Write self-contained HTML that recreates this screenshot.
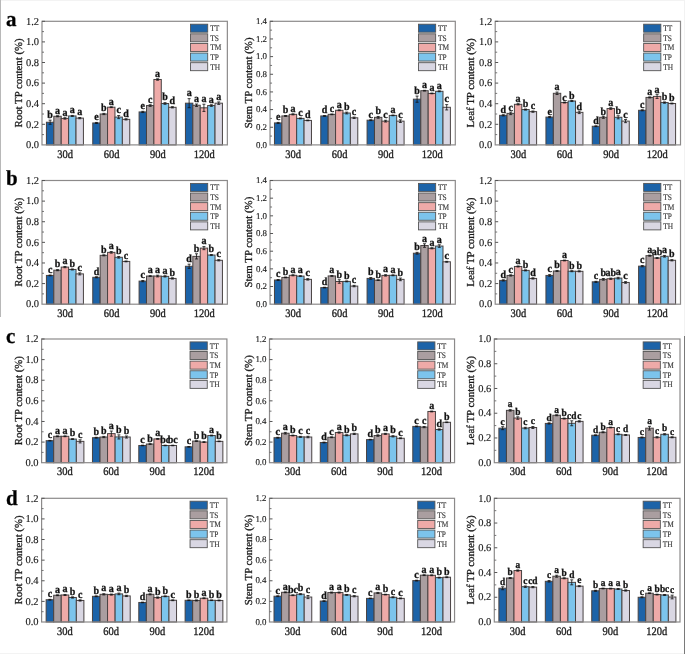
<!DOCTYPE html>
<html><head><meta charset="utf-8"><style>
html,body{margin:0;padding:0;background:#fff;}
body{width:685px;height:654px;overflow:hidden;position:relative;}
svg{position:absolute;left:0;top:0;display:block;will-change:transform;filter:blur(0.3px);}
text{font-family:"Liberation Serif",serif;fill:#1c1c1c;text-rendering:geometricPrecision;stroke:#1c1c1c;stroke-width:0.3px;}
.tk{text-anchor:end;stroke-width:0.15px;}
.xl{font-size:10.5px;text-anchor:middle;}
.yl{font-size:10.7px;text-anchor:middle;}
.lg{font-size:7.4px;fill:#333;stroke-width:0.12px;stroke:#333;}
.lt{font-size:10px;font-weight:bold;text-anchor:middle;fill:#111;}
.pl{font-size:21px;font-weight:bold;fill:#000;}
</style></head><body>
<svg width="685" height="654" viewBox="0 0 685 654">
<rect x="0" y="0" width="685" height="1" fill="#f3f3f3"/>
<rect x="0" y="653" width="685" height="1" fill="#f3f3f3"/>
<rect x="0" y="0" width="1" height="317" fill="#b8b8b8"/>
<rect x="684" y="0" width="1" height="336" fill="#f2f2f2"/>
<rect x="684" y="336" width="1" height="318" fill="#7a7a7a"/>
<rect x="46.42" y="122.24" width="7.40" height="22.66" fill="#1c63a8" stroke="#484242" stroke-width="1.0"/>
<path d="M50.12 120.18V124.30M48.62 120.18h3M48.62 124.30h3" stroke="#111" stroke-width="0.8" fill="none"/>
<text transform="translate(50.12 117.98) scale(1 1.10)" class="lt">b</text>
<rect x="53.82" y="116.27" width="7.40" height="28.63" fill="#aa9ea0" stroke="#484242" stroke-width="1.0"/>
<path d="M57.52 115.75V116.78M56.02 115.75h3M56.02 116.78h3" stroke="#111" stroke-width="0.8" fill="none"/>
<text transform="translate(57.52 113.55) scale(1 1.10)" class="lt">a</text>
<rect x="61.22" y="118.43" width="7.40" height="26.47" fill="#eeaaa8" stroke="#484242" stroke-width="1.0"/>
<path d="M64.92 117.71V119.15M63.42 117.71h3M63.42 119.15h3" stroke="#111" stroke-width="0.8" fill="none"/>
<text transform="translate(64.92 115.51) scale(1 1.10)" class="lt">a</text>
<rect x="68.62" y="115.96" width="7.40" height="28.94" fill="#7cc4ec" stroke="#484242" stroke-width="1.0"/>
<path d="M72.32 115.44V116.47M70.82 115.44h3M70.82 116.47h3" stroke="#111" stroke-width="0.8" fill="none"/>
<text transform="translate(72.32 113.24) scale(1 1.10)" class="lt">a</text>
<rect x="76.02" y="118.12" width="7.40" height="26.78" fill="#d9d7e3" stroke="#484242" stroke-width="1.0"/>
<path d="M79.72 117.50V118.74M78.22 117.50h3M78.22 118.74h3" stroke="#111" stroke-width="0.8" fill="none"/>
<text transform="translate(79.72 115.30) scale(1 1.10)" class="lt">a</text>
<rect x="92.76" y="122.96" width="7.40" height="21.94" fill="#1c63a8" stroke="#484242" stroke-width="1.0"/>
<path d="M96.46 122.45V123.48M94.96 122.45h3M94.96 123.48h3" stroke="#111" stroke-width="0.8" fill="none"/>
<text transform="translate(96.46 120.25) scale(1 1.10)" class="lt">e</text>
<rect x="100.16" y="114.00" width="7.40" height="30.90" fill="#aa9ea0" stroke="#484242" stroke-width="1.0"/>
<path d="M103.86 113.38V114.62M102.36 113.38h3M102.36 114.62h3" stroke="#111" stroke-width="0.8" fill="none"/>
<text transform="translate(103.86 111.18) scale(1 1.10)" class="lt">b</text>
<rect x="107.56" y="107.20" width="7.40" height="37.70" fill="#eeaaa8" stroke="#484242" stroke-width="1.0"/>
<path d="M111.26 106.79V107.61M109.76 106.79h3M109.76 107.61h3" stroke="#111" stroke-width="0.8" fill="none"/>
<text transform="translate(111.26 104.59) scale(1 1.10)" class="lt">a</text>
<rect x="114.96" y="117.09" width="7.40" height="27.81" fill="#7cc4ec" stroke="#484242" stroke-width="1.0"/>
<path d="M118.66 115.55V118.64M117.16 115.55h3M117.16 118.64h3" stroke="#111" stroke-width="0.8" fill="none"/>
<text transform="translate(118.66 113.34) scale(1 1.10)" class="lt">c</text>
<rect x="122.36" y="119.36" width="7.40" height="25.54" fill="#d9d7e3" stroke="#484242" stroke-width="1.0"/>
<path d="M126.06 118.74V119.97M124.56 118.74h3M124.56 119.97h3" stroke="#111" stroke-width="0.8" fill="none"/>
<text transform="translate(126.06 116.54) scale(1 1.10)" class="lt">d</text>
<rect x="139.09" y="111.94" width="7.40" height="32.96" fill="#1c63a8" stroke="#484242" stroke-width="1.0"/>
<path d="M142.79 111.32V112.56M141.29 111.32h3M141.29 112.56h3" stroke="#111" stroke-width="0.8" fill="none"/>
<text transform="translate(142.79 109.12) scale(1 1.10)" class="lt">e</text>
<rect x="146.49" y="105.55" width="7.40" height="39.35" fill="#aa9ea0" stroke="#484242" stroke-width="1.0"/>
<path d="M150.19 104.73V106.38M148.69 104.73h3M148.69 106.38h3" stroke="#111" stroke-width="0.8" fill="none"/>
<text transform="translate(150.19 102.53) scale(1 1.10)" class="lt">c</text>
<rect x="153.89" y="79.49" width="7.40" height="65.41" fill="#eeaaa8" stroke="#484242" stroke-width="1.0"/>
<path d="M157.59 78.77V80.22M156.09 78.77h3M156.09 80.22h3" stroke="#111" stroke-width="0.8" fill="none"/>
<text transform="translate(157.59 76.57) scale(1 1.10)" class="lt">a</text>
<rect x="161.29" y="103.49" width="7.40" height="41.41" fill="#7cc4ec" stroke="#484242" stroke-width="1.0"/>
<path d="M164.99 102.67V104.32M163.49 102.67h3M163.49 104.32h3" stroke="#111" stroke-width="0.8" fill="none"/>
<text transform="translate(164.99 100.47) scale(1 1.10)" class="lt">b</text>
<rect x="168.69" y="107.31" width="7.40" height="37.59" fill="#d9d7e3" stroke="#484242" stroke-width="1.0"/>
<path d="M172.39 106.69V107.92M170.89 106.69h3M170.89 107.92h3" stroke="#111" stroke-width="0.8" fill="none"/>
<text transform="translate(172.39 104.49) scale(1 1.10)" class="lt">d</text>
<rect x="185.43" y="103.19" width="7.40" height="41.72" fill="#1c63a8" stroke="#484242" stroke-width="1.0"/>
<path d="M189.13 98.65V107.72M187.63 98.65h3M187.63 107.72h3" stroke="#111" stroke-width="0.8" fill="none"/>
<text transform="translate(189.13 96.45) scale(1 1.10)" class="lt">a</text>
<rect x="192.83" y="105.25" width="7.40" height="39.66" fill="#aa9ea0" stroke="#484242" stroke-width="1.0"/>
<path d="M196.53 104.01V106.48M195.03 104.01h3M195.03 106.48h3" stroke="#111" stroke-width="0.8" fill="none"/>
<text transform="translate(196.53 101.81) scale(1 1.10)" class="lt">a</text>
<rect x="200.23" y="107.82" width="7.40" height="37.08" fill="#eeaaa8" stroke="#484242" stroke-width="1.0"/>
<path d="M203.93 104.21V111.42M202.43 104.21h3M202.43 111.42h3" stroke="#111" stroke-width="0.8" fill="none"/>
<text transform="translate(203.93 102.01) scale(1 1.10)" class="lt">a</text>
<rect x="207.63" y="105.55" width="7.40" height="39.35" fill="#7cc4ec" stroke="#484242" stroke-width="1.0"/>
<path d="M211.33 104.73V106.38M209.83 104.73h3M209.83 106.38h3" stroke="#111" stroke-width="0.8" fill="none"/>
<text transform="translate(211.33 102.53) scale(1 1.10)" class="lt">a</text>
<rect x="215.03" y="103.19" width="7.40" height="41.72" fill="#d9d7e3" stroke="#484242" stroke-width="1.0"/>
<path d="M218.73 101.95V104.42M217.23 101.95h3M217.23 104.42h3" stroke="#111" stroke-width="0.8" fill="none"/>
<text transform="translate(218.73 99.75) scale(1 1.10)" class="lt">a</text>
<rect x="42.00" y="21.30" width="185.35" height="123.60" fill="none" stroke="#8c8a8a" stroke-width="1.2"/>
<text x="39.00" y="148.10" class="tk" style="font-size:10.5px">0.0</text>
<path d="M42.00 134.60h2.0" stroke="#666" stroke-width="0.9"/>
<path d="M42.00 124.30h3.0" stroke="#555" stroke-width="1.0"/>
<text x="39.00" y="127.50" class="tk" style="font-size:10.5px">0.2</text>
<path d="M42.00 114.00h2.0" stroke="#666" stroke-width="0.9"/>
<path d="M42.00 103.70h3.0" stroke="#555" stroke-width="1.0"/>
<text x="39.00" y="106.90" class="tk" style="font-size:10.5px">0.4</text>
<path d="M42.00 93.40h2.0" stroke="#666" stroke-width="0.9"/>
<path d="M42.00 83.10h3.0" stroke="#555" stroke-width="1.0"/>
<text x="39.00" y="86.30" class="tk" style="font-size:10.5px">0.6</text>
<path d="M42.00 72.80h2.0" stroke="#666" stroke-width="0.9"/>
<path d="M42.00 62.50h3.0" stroke="#555" stroke-width="1.0"/>
<text x="39.00" y="65.70" class="tk" style="font-size:10.5px">0.8</text>
<path d="M42.00 52.20h2.0" stroke="#666" stroke-width="0.9"/>
<path d="M42.00 41.90h3.0" stroke="#555" stroke-width="1.0"/>
<text x="39.00" y="45.10" class="tk" style="font-size:10.5px">1.0</text>
<path d="M42.00 31.60h2.0" stroke="#666" stroke-width="0.9"/>
<path d="M42.00 21.30h3.0" stroke="#555" stroke-width="1.0"/>
<text x="39.00" y="24.50" class="tk" style="font-size:10.5px">1.2</text>
<text transform="translate(65.17 157.60) scale(1 1.10)" class="xl">30d</text>
<text transform="translate(111.51 157.60) scale(1 1.10)" class="xl">60d</text>
<text transform="translate(157.84 157.60) scale(1 1.10)" class="xl">90d</text>
<text transform="translate(204.18 157.60) scale(1 1.10)" class="xl">120d</text>
<text transform="translate(22.00 82.90) rotate(-90)" class="yl" textLength="89.0" lengthAdjust="spacingAndGlyphs">Root TP content (%)</text>
<rect x="190.50" y="24.20" width="17.2" height="8.0" fill="#1c63a8" stroke="#555" stroke-width="0.9"/>
<text transform="translate(210.15 31.15) scale(1 1.15)" class="lg">TT</text>
<rect x="190.50" y="33.82" width="17.2" height="8.0" fill="#aa9ea0" stroke="#555" stroke-width="0.9"/>
<text transform="translate(210.15 40.77) scale(1 1.15)" class="lg">TS</text>
<rect x="190.50" y="43.44" width="17.2" height="8.0" fill="#eeaaa8" stroke="#555" stroke-width="0.9"/>
<text transform="translate(210.15 50.39) scale(1 1.15)" class="lg">TM</text>
<rect x="190.50" y="53.06" width="17.2" height="8.0" fill="#7cc4ec" stroke="#555" stroke-width="0.9"/>
<text transform="translate(210.15 60.01) scale(1 1.15)" class="lg">TP</text>
<rect x="190.50" y="62.68" width="17.2" height="8.0" fill="#d9d7e3" stroke="#555" stroke-width="0.9"/>
<text transform="translate(210.15 69.63) scale(1 1.15)" class="lg">TH</text>
<rect x="274.46" y="122.92" width="7.40" height="21.98" fill="#1c63a8" stroke="#484242" stroke-width="1.0"/>
<path d="M278.16 122.39V123.45M276.66 122.39h3M276.66 123.45h3" stroke="#111" stroke-width="0.8" fill="none"/>
<text transform="translate(278.16 120.19) scale(1 1.10)" class="lt">e</text>
<rect x="281.86" y="115.94" width="7.40" height="28.96" fill="#aa9ea0" stroke="#484242" stroke-width="1.0"/>
<path d="M285.56 115.50V116.38M284.06 115.50h3M284.06 116.38h3" stroke="#111" stroke-width="0.8" fill="none"/>
<text transform="translate(285.56 113.30) scale(1 1.10)" class="lt">b</text>
<rect x="289.26" y="114.35" width="7.40" height="30.55" fill="#eeaaa8" stroke="#484242" stroke-width="1.0"/>
<path d="M292.96 113.82V114.88M291.46 113.82h3M291.46 114.88h3" stroke="#111" stroke-width="0.8" fill="none"/>
<text transform="translate(292.96 111.62) scale(1 1.10)" class="lt">a</text>
<rect x="296.66" y="118.41" width="7.40" height="26.49" fill="#7cc4ec" stroke="#484242" stroke-width="1.0"/>
<path d="M300.36 117.97V118.86M298.86 117.97h3M298.86 118.86h3" stroke="#111" stroke-width="0.8" fill="none"/>
<text transform="translate(300.36 115.77) scale(1 1.10)" class="lt">c</text>
<rect x="304.06" y="120.44" width="7.40" height="24.46" fill="#d9d7e3" stroke="#484242" stroke-width="1.0"/>
<path d="M307.76 120.09V120.80M306.26 120.09h3M306.26 120.80h3" stroke="#111" stroke-width="0.8" fill="none"/>
<text transform="translate(307.76 117.89) scale(1 1.10)" class="lt">d</text>
<rect x="320.77" y="115.94" width="7.40" height="28.96" fill="#1c63a8" stroke="#484242" stroke-width="1.0"/>
<path d="M324.47 115.59V116.30M322.97 115.59h3M322.97 116.30h3" stroke="#111" stroke-width="0.8" fill="none"/>
<text transform="translate(324.47 113.39) scale(1 1.10)" class="lt">d</text>
<rect x="328.17" y="114.35" width="7.40" height="30.55" fill="#aa9ea0" stroke="#484242" stroke-width="1.0"/>
<path d="M331.87 114.00V114.71M330.37 114.00h3M330.37 114.71h3" stroke="#111" stroke-width="0.8" fill="none"/>
<text transform="translate(331.87 111.80) scale(1 1.10)" class="lt">c</text>
<rect x="335.57" y="110.29" width="7.40" height="34.61" fill="#eeaaa8" stroke="#484242" stroke-width="1.0"/>
<path d="M339.27 109.85V110.73M337.77 109.85h3M337.77 110.73h3" stroke="#111" stroke-width="0.8" fill="none"/>
<text transform="translate(339.27 107.65) scale(1 1.10)" class="lt">a</text>
<rect x="342.97" y="113.03" width="7.40" height="31.87" fill="#7cc4ec" stroke="#484242" stroke-width="1.0"/>
<path d="M346.67 112.15V113.91M345.17 112.15h3M345.17 113.91h3" stroke="#111" stroke-width="0.8" fill="none"/>
<text transform="translate(346.67 109.95) scale(1 1.10)" class="lt">b</text>
<rect x="350.37" y="117.80" width="7.40" height="27.10" fill="#d9d7e3" stroke="#484242" stroke-width="1.0"/>
<path d="M354.07 117.09V118.50M352.57 117.09h3M352.57 118.50h3" stroke="#111" stroke-width="0.8" fill="none"/>
<text transform="translate(354.07 114.89) scale(1 1.10)" class="lt">c</text>
<rect x="367.08" y="120.18" width="7.40" height="24.72" fill="#1c63a8" stroke="#484242" stroke-width="1.0"/>
<path d="M370.78 119.74V120.62M369.28 119.74h3M369.28 120.62h3" stroke="#111" stroke-width="0.8" fill="none"/>
<text transform="translate(370.78 117.54) scale(1 1.10)" class="lt">c</text>
<rect x="374.48" y="117.35" width="7.40" height="27.55" fill="#aa9ea0" stroke="#484242" stroke-width="1.0"/>
<path d="M378.18 116.47V118.24M376.68 116.47h3M376.68 118.24h3" stroke="#111" stroke-width="0.8" fill="none"/>
<text transform="translate(378.18 114.27) scale(1 1.10)" class="lt">b</text>
<rect x="381.88" y="121.15" width="7.40" height="23.75" fill="#eeaaa8" stroke="#484242" stroke-width="1.0"/>
<path d="M385.58 120.27V122.03M384.08 120.27h3M384.08 122.03h3" stroke="#111" stroke-width="0.8" fill="none"/>
<text transform="translate(385.58 118.07) scale(1 1.10)" class="lt">c</text>
<rect x="389.28" y="115.41" width="7.40" height="29.49" fill="#7cc4ec" stroke="#484242" stroke-width="1.0"/>
<path d="M392.98 115.06V115.77M391.48 115.06h3M391.48 115.77h3" stroke="#111" stroke-width="0.8" fill="none"/>
<text transform="translate(392.98 112.86) scale(1 1.10)" class="lt">a</text>
<rect x="396.68" y="121.15" width="7.40" height="23.75" fill="#d9d7e3" stroke="#484242" stroke-width="1.0"/>
<path d="M400.38 119.83V122.48M398.88 119.83h3M398.88 122.48h3" stroke="#111" stroke-width="0.8" fill="none"/>
<text transform="translate(400.38 117.63) scale(1 1.10)" class="lt">c</text>
<rect x="413.39" y="99.17" width="7.40" height="45.73" fill="#1c63a8" stroke="#484242" stroke-width="1.0"/>
<path d="M417.09 96.08V102.26M415.59 96.08h3M415.59 102.26h3" stroke="#111" stroke-width="0.8" fill="none"/>
<text transform="translate(417.09 93.88) scale(1 1.10)" class="lt">b</text>
<rect x="420.79" y="90.69" width="7.40" height="54.21" fill="#aa9ea0" stroke="#484242" stroke-width="1.0"/>
<path d="M424.49 90.34V91.05M422.99 90.34h3M422.99 91.05h3" stroke="#111" stroke-width="0.8" fill="none"/>
<text transform="translate(424.49 88.14) scale(1 1.10)" class="lt">a</text>
<rect x="428.19" y="93.43" width="7.40" height="51.47" fill="#eeaaa8" stroke="#484242" stroke-width="1.0"/>
<path d="M431.89 93.08V93.78M430.39 93.08h3M430.39 93.78h3" stroke="#111" stroke-width="0.8" fill="none"/>
<text transform="translate(431.89 90.88) scale(1 1.10)" class="lt">a</text>
<rect x="435.59" y="91.31" width="7.40" height="53.59" fill="#7cc4ec" stroke="#484242" stroke-width="1.0"/>
<path d="M439.29 90.87V91.75M437.79 90.87h3M437.79 91.75h3" stroke="#111" stroke-width="0.8" fill="none"/>
<text transform="translate(439.29 88.67) scale(1 1.10)" class="lt">a</text>
<rect x="442.99" y="107.29" width="7.40" height="37.61" fill="#d9d7e3" stroke="#484242" stroke-width="1.0"/>
<path d="M446.69 104.64V109.94M445.19 104.64h3M445.19 109.94h3" stroke="#111" stroke-width="0.8" fill="none"/>
<text transform="translate(446.69 102.44) scale(1 1.10)" class="lt">c</text>
<rect x="270.05" y="21.30" width="185.25" height="123.60" fill="none" stroke="#8c8a8a" stroke-width="1.2"/>
<text x="267.05" y="147.56" class="tk" style="font-size:8.9px">0.0</text>
<path d="M270.05 136.07h2.0" stroke="#666" stroke-width="0.9"/>
<path d="M270.05 127.24h3.0" stroke="#555" stroke-width="1.0"/>
<text x="267.05" y="129.90" class="tk" style="font-size:8.9px">0.2</text>
<path d="M270.05 118.41h2.0" stroke="#666" stroke-width="0.9"/>
<path d="M270.05 109.59h3.0" stroke="#555" stroke-width="1.0"/>
<text x="267.05" y="112.24" class="tk" style="font-size:8.9px">0.4</text>
<path d="M270.05 100.76h2.0" stroke="#666" stroke-width="0.9"/>
<path d="M270.05 91.93h3.0" stroke="#555" stroke-width="1.0"/>
<text x="267.05" y="94.59" class="tk" style="font-size:8.9px">0.6</text>
<path d="M270.05 83.10h2.0" stroke="#666" stroke-width="0.9"/>
<path d="M270.05 74.27h3.0" stroke="#555" stroke-width="1.0"/>
<text x="267.05" y="76.93" class="tk" style="font-size:8.9px">0.8</text>
<path d="M270.05 65.44h2.0" stroke="#666" stroke-width="0.9"/>
<path d="M270.05 56.61h3.0" stroke="#555" stroke-width="1.0"/>
<text x="267.05" y="59.27" class="tk" style="font-size:8.9px">1.0</text>
<path d="M270.05 47.79h2.0" stroke="#666" stroke-width="0.9"/>
<path d="M270.05 38.96h3.0" stroke="#555" stroke-width="1.0"/>
<text x="267.05" y="41.62" class="tk" style="font-size:8.9px">1.2</text>
<path d="M270.05 30.13h2.0" stroke="#666" stroke-width="0.9"/>
<path d="M270.05 21.30h3.0" stroke="#555" stroke-width="1.0"/>
<text x="267.05" y="23.96" class="tk" style="font-size:8.9px">1.4</text>
<text transform="translate(293.21 157.60) scale(1 1.10)" class="xl">30d</text>
<text transform="translate(339.52 157.60) scale(1 1.10)" class="xl">60d</text>
<text transform="translate(385.83 157.60) scale(1 1.10)" class="xl">90d</text>
<text transform="translate(432.14 157.60) scale(1 1.10)" class="xl">120d</text>
<text transform="translate(251.65 82.90) rotate(-90)" class="yl" textLength="90.8" lengthAdjust="spacingAndGlyphs">Stem TP content (%)</text>
<rect x="418.45" y="24.20" width="17.2" height="8.0" fill="#1c63a8" stroke="#555" stroke-width="0.9"/>
<text transform="translate(438.10 31.15) scale(1 1.15)" class="lg">TT</text>
<rect x="418.45" y="33.82" width="17.2" height="8.0" fill="#aa9ea0" stroke="#555" stroke-width="0.9"/>
<text transform="translate(438.10 40.77) scale(1 1.15)" class="lg">TS</text>
<rect x="418.45" y="43.44" width="17.2" height="8.0" fill="#eeaaa8" stroke="#555" stroke-width="0.9"/>
<text transform="translate(438.10 50.39) scale(1 1.15)" class="lg">TM</text>
<rect x="418.45" y="53.06" width="17.2" height="8.0" fill="#7cc4ec" stroke="#555" stroke-width="0.9"/>
<text transform="translate(438.10 60.01) scale(1 1.15)" class="lg">TP</text>
<rect x="418.45" y="62.68" width="17.2" height="8.0" fill="#d9d7e3" stroke="#555" stroke-width="0.9"/>
<text transform="translate(438.10 69.63) scale(1 1.15)" class="lg">TH</text>
<rect x="499.61" y="115.34" width="7.40" height="29.56" fill="#1c63a8" stroke="#484242" stroke-width="1.0"/>
<path d="M503.31 114.72V115.96M501.81 114.72h3M501.81 115.96h3" stroke="#111" stroke-width="0.8" fill="none"/>
<text transform="translate(503.31 113.12) scale(1 1.10)" class="lt">d</text>
<rect x="507.01" y="113.38" width="7.40" height="31.52" fill="#aa9ea0" stroke="#484242" stroke-width="1.0"/>
<path d="M510.71 112.15V114.62M509.21 112.15h3M509.21 114.62h3" stroke="#111" stroke-width="0.8" fill="none"/>
<text transform="translate(510.71 110.55) scale(1 1.10)" class="lt">c</text>
<rect x="514.41" y="104.32" width="7.40" height="40.58" fill="#eeaaa8" stroke="#484242" stroke-width="1.0"/>
<path d="M518.11 103.70V104.94M516.61 103.70h3M516.61 104.94h3" stroke="#111" stroke-width="0.8" fill="none"/>
<text transform="translate(518.11 102.10) scale(1 1.10)" class="lt">a</text>
<rect x="521.81" y="109.57" width="7.40" height="35.33" fill="#7cc4ec" stroke="#484242" stroke-width="1.0"/>
<path d="M525.51 109.06V110.09M524.01 109.06h3M524.01 110.09h3" stroke="#111" stroke-width="0.8" fill="none"/>
<text transform="translate(525.51 107.46) scale(1 1.10)" class="lt">b</text>
<rect x="529.21" y="111.63" width="7.40" height="33.27" fill="#d9d7e3" stroke="#484242" stroke-width="1.0"/>
<path d="M532.91 111.01V112.25M531.41 111.01h3M531.41 112.25h3" stroke="#111" stroke-width="0.8" fill="none"/>
<text transform="translate(532.91 109.41) scale(1 1.10)" class="lt">c</text>
<rect x="545.94" y="117.09" width="7.40" height="27.81" fill="#1c63a8" stroke="#484242" stroke-width="1.0"/>
<path d="M549.64 116.47V117.71M548.14 116.47h3M548.14 117.71h3" stroke="#111" stroke-width="0.8" fill="none"/>
<text transform="translate(549.64 114.87) scale(1 1.10)" class="lt">e</text>
<rect x="553.34" y="93.30" width="7.40" height="51.60" fill="#aa9ea0" stroke="#484242" stroke-width="1.0"/>
<path d="M557.04 92.06V94.53M555.54 92.06h3M555.54 94.53h3" stroke="#111" stroke-width="0.8" fill="none"/>
<text transform="translate(557.04 90.46) scale(1 1.10)" class="lt">a</text>
<rect x="560.74" y="102.57" width="7.40" height="42.33" fill="#eeaaa8" stroke="#484242" stroke-width="1.0"/>
<path d="M564.44 102.16V102.98M562.94 102.16h3M562.94 102.98h3" stroke="#111" stroke-width="0.8" fill="none"/>
<text transform="translate(564.44 100.56) scale(1 1.10)" class="lt">c</text>
<rect x="568.14" y="101.02" width="7.40" height="43.88" fill="#7cc4ec" stroke="#484242" stroke-width="1.0"/>
<path d="M571.84 100.51V101.54M570.34 100.51h3M570.34 101.54h3" stroke="#111" stroke-width="0.8" fill="none"/>
<text transform="translate(571.84 98.91) scale(1 1.10)" class="lt">b</text>
<rect x="575.54" y="112.35" width="7.40" height="32.55" fill="#d9d7e3" stroke="#484242" stroke-width="1.0"/>
<path d="M579.24 111.12V113.59M577.74 111.12h3M577.74 113.59h3" stroke="#111" stroke-width="0.8" fill="none"/>
<text transform="translate(579.24 109.52) scale(1 1.10)" class="lt">d</text>
<rect x="592.26" y="126.26" width="7.40" height="18.64" fill="#1c63a8" stroke="#484242" stroke-width="1.0"/>
<path d="M595.96 125.84V126.67M594.46 125.84h3M594.46 126.67h3" stroke="#111" stroke-width="0.8" fill="none"/>
<text transform="translate(595.96 124.25) scale(1 1.10)" class="lt">d</text>
<rect x="599.66" y="117.30" width="7.40" height="27.60" fill="#aa9ea0" stroke="#484242" stroke-width="1.0"/>
<path d="M603.36 116.27V118.33M601.86 116.27h3M601.86 118.33h3" stroke="#111" stroke-width="0.8" fill="none"/>
<text transform="translate(603.36 114.67) scale(1 1.10)" class="lt">b</text>
<rect x="607.06" y="108.54" width="7.40" height="36.36" fill="#eeaaa8" stroke="#484242" stroke-width="1.0"/>
<path d="M610.76 107.72V109.36M609.26 107.72h3M609.26 109.36h3" stroke="#111" stroke-width="0.8" fill="none"/>
<text transform="translate(610.76 106.12) scale(1 1.10)" class="lt">a</text>
<rect x="614.46" y="117.30" width="7.40" height="27.60" fill="#7cc4ec" stroke="#484242" stroke-width="1.0"/>
<path d="M618.16 115.75V118.84M616.66 115.75h3M616.66 118.84h3" stroke="#111" stroke-width="0.8" fill="none"/>
<text transform="translate(618.16 114.15) scale(1 1.10)" class="lt">b</text>
<rect x="621.86" y="121.11" width="7.40" height="23.79" fill="#d9d7e3" stroke="#484242" stroke-width="1.0"/>
<path d="M625.56 119.56V122.65M624.06 119.56h3M624.06 122.65h3" stroke="#111" stroke-width="0.8" fill="none"/>
<text transform="translate(625.56 117.96) scale(1 1.10)" class="lt">c</text>
<rect x="638.59" y="110.29" width="7.40" height="34.61" fill="#1c63a8" stroke="#484242" stroke-width="1.0"/>
<path d="M642.29 109.78V110.81M640.79 109.78h3M640.79 110.81h3" stroke="#111" stroke-width="0.8" fill="none"/>
<text transform="translate(642.29 108.18) scale(1 1.10)" class="lt">c</text>
<rect x="645.99" y="97.42" width="7.40" height="47.48" fill="#aa9ea0" stroke="#484242" stroke-width="1.0"/>
<path d="M649.69 96.90V97.93M648.19 96.90h3M648.19 97.93h3" stroke="#111" stroke-width="0.8" fill="none"/>
<text transform="translate(649.69 95.30) scale(1 1.10)" class="lt">a</text>
<rect x="653.39" y="96.39" width="7.40" height="48.51" fill="#eeaaa8" stroke="#484242" stroke-width="1.0"/>
<path d="M657.09 94.33V98.45M655.59 94.33h3M655.59 98.45h3" stroke="#111" stroke-width="0.8" fill="none"/>
<text transform="translate(657.09 92.73) scale(1 1.10)" class="lt">a</text>
<rect x="660.79" y="102.57" width="7.40" height="42.33" fill="#7cc4ec" stroke="#484242" stroke-width="1.0"/>
<path d="M664.49 101.95V103.19M662.99 101.95h3M662.99 103.19h3" stroke="#111" stroke-width="0.8" fill="none"/>
<text transform="translate(664.49 100.35) scale(1 1.10)" class="lt">b</text>
<rect x="668.19" y="103.49" width="7.40" height="41.41" fill="#d9d7e3" stroke="#484242" stroke-width="1.0"/>
<path d="M671.89 103.08V103.91M670.39 103.08h3M670.39 103.91h3" stroke="#111" stroke-width="0.8" fill="none"/>
<text transform="translate(671.89 101.48) scale(1 1.10)" class="lt">b</text>
<rect x="495.20" y="21.30" width="185.30" height="123.60" fill="none" stroke="#8c8a8a" stroke-width="1.2"/>
<text x="492.20" y="148.10" class="tk" style="font-size:10.5px">0.0</text>
<path d="M495.20 134.60h2.0" stroke="#666" stroke-width="0.9"/>
<path d="M495.20 124.30h3.0" stroke="#555" stroke-width="1.0"/>
<text x="492.20" y="127.50" class="tk" style="font-size:10.5px">0.2</text>
<path d="M495.20 114.00h2.0" stroke="#666" stroke-width="0.9"/>
<path d="M495.20 103.70h3.0" stroke="#555" stroke-width="1.0"/>
<text x="492.20" y="106.90" class="tk" style="font-size:10.5px">0.4</text>
<path d="M495.20 93.40h2.0" stroke="#666" stroke-width="0.9"/>
<path d="M495.20 83.10h3.0" stroke="#555" stroke-width="1.0"/>
<text x="492.20" y="86.30" class="tk" style="font-size:10.5px">0.6</text>
<path d="M495.20 72.80h2.0" stroke="#666" stroke-width="0.9"/>
<path d="M495.20 62.50h3.0" stroke="#555" stroke-width="1.0"/>
<text x="492.20" y="65.70" class="tk" style="font-size:10.5px">0.8</text>
<path d="M495.20 52.20h2.0" stroke="#666" stroke-width="0.9"/>
<path d="M495.20 41.90h3.0" stroke="#555" stroke-width="1.0"/>
<text x="492.20" y="45.10" class="tk" style="font-size:10.5px">1.0</text>
<path d="M495.20 31.60h2.0" stroke="#666" stroke-width="0.9"/>
<path d="M495.20 21.30h3.0" stroke="#555" stroke-width="1.0"/>
<text x="492.20" y="24.50" class="tk" style="font-size:10.5px">1.2</text>
<text transform="translate(518.36 157.60) scale(1 1.10)" class="xl">30d</text>
<text transform="translate(564.69 157.60) scale(1 1.10)" class="xl">60d</text>
<text transform="translate(611.01 157.60) scale(1 1.10)" class="xl">90d</text>
<text transform="translate(657.34 157.60) scale(1 1.10)" class="xl">120d</text>
<text transform="translate(474.00 82.90) rotate(-90)" class="yl" textLength="89.0" lengthAdjust="spacingAndGlyphs">Leaf TP content (%)</text>
<rect x="643.65" y="24.20" width="17.2" height="8.0" fill="#1c63a8" stroke="#555" stroke-width="0.9"/>
<text transform="translate(663.30 31.15) scale(1 1.15)" class="lg">TT</text>
<rect x="643.65" y="33.82" width="17.2" height="8.0" fill="#aa9ea0" stroke="#555" stroke-width="0.9"/>
<text transform="translate(663.30 40.77) scale(1 1.15)" class="lg">TS</text>
<rect x="643.65" y="43.44" width="17.2" height="8.0" fill="#eeaaa8" stroke="#555" stroke-width="0.9"/>
<text transform="translate(663.30 50.39) scale(1 1.15)" class="lg">TM</text>
<rect x="643.65" y="53.06" width="17.2" height="8.0" fill="#7cc4ec" stroke="#555" stroke-width="0.9"/>
<text transform="translate(663.30 60.01) scale(1 1.15)" class="lg">TP</text>
<rect x="643.65" y="62.68" width="17.2" height="8.0" fill="#d9d7e3" stroke="#555" stroke-width="0.9"/>
<text transform="translate(663.30 69.63) scale(1 1.15)" class="lg">TH</text>
<text transform="translate(6.00 25.80) scale(1 1.02)" class="pl">a</text>
<rect x="46.42" y="275.44" width="7.40" height="28.76" fill="#1c63a8" stroke="#484242" stroke-width="1.0"/>
<path d="M50.12 275.03V275.85M48.62 275.03h3M48.62 275.85h3" stroke="#111" stroke-width="0.8" fill="none"/>
<text transform="translate(50.12 272.83) scale(1 1.10)" class="lt">c</text>
<rect x="53.82" y="270.18" width="7.40" height="34.02" fill="#aa9ea0" stroke="#484242" stroke-width="1.0"/>
<path d="M57.52 269.67V270.70M56.02 269.67h3M56.02 270.70h3" stroke="#111" stroke-width="0.8" fill="none"/>
<text transform="translate(57.52 267.47) scale(1 1.10)" class="lt">b</text>
<rect x="61.22" y="267.09" width="7.40" height="37.11" fill="#eeaaa8" stroke="#484242" stroke-width="1.0"/>
<path d="M64.92 266.47V267.71M63.42 266.47h3M63.42 267.71h3" stroke="#111" stroke-width="0.8" fill="none"/>
<text transform="translate(64.92 264.27) scale(1 1.10)" class="lt">a</text>
<rect x="68.62" y="269.46" width="7.40" height="34.74" fill="#7cc4ec" stroke="#484242" stroke-width="1.0"/>
<path d="M72.32 268.95V269.98M70.82 268.95h3M70.82 269.98h3" stroke="#111" stroke-width="0.8" fill="none"/>
<text transform="translate(72.32 266.75) scale(1 1.10)" class="lt">b</text>
<rect x="76.02" y="273.89" width="7.40" height="30.31" fill="#d9d7e3" stroke="#484242" stroke-width="1.0"/>
<path d="M79.72 272.86V274.92M78.22 272.86h3M78.22 274.92h3" stroke="#111" stroke-width="0.8" fill="none"/>
<text transform="translate(79.72 270.66) scale(1 1.10)" class="lt">c</text>
<rect x="92.76" y="277.30" width="7.40" height="26.90" fill="#1c63a8" stroke="#484242" stroke-width="1.0"/>
<path d="M96.46 276.78V277.81M94.96 276.78h3M94.96 277.81h3" stroke="#111" stroke-width="0.8" fill="none"/>
<text transform="translate(96.46 274.58) scale(1 1.10)" class="lt">d</text>
<rect x="100.16" y="255.34" width="7.40" height="48.86" fill="#aa9ea0" stroke="#484242" stroke-width="1.0"/>
<path d="M103.86 254.82V255.85M102.36 254.82h3M102.36 255.85h3" stroke="#111" stroke-width="0.8" fill="none"/>
<text transform="translate(103.86 252.62) scale(1 1.10)" class="lt">b</text>
<rect x="107.56" y="252.35" width="7.40" height="51.85" fill="#eeaaa8" stroke="#484242" stroke-width="1.0"/>
<path d="M111.26 251.52V253.17M109.76 251.52h3M109.76 253.17h3" stroke="#111" stroke-width="0.8" fill="none"/>
<text transform="translate(111.26 249.32) scale(1 1.10)" class="lt">a</text>
<rect x="114.96" y="257.30" width="7.40" height="46.90" fill="#7cc4ec" stroke="#484242" stroke-width="1.0"/>
<path d="M118.66 256.47V258.12M117.16 256.47h3M117.16 258.12h3" stroke="#111" stroke-width="0.8" fill="none"/>
<text transform="translate(118.66 254.27) scale(1 1.10)" class="lt">b</text>
<rect x="122.36" y="261.42" width="7.40" height="42.78" fill="#d9d7e3" stroke="#484242" stroke-width="1.0"/>
<path d="M126.06 261.01V261.83M124.56 261.01h3M124.56 261.83h3" stroke="#111" stroke-width="0.8" fill="none"/>
<text transform="translate(126.06 258.81) scale(1 1.10)" class="lt">c</text>
<rect x="139.09" y="281.11" width="7.40" height="23.09" fill="#1c63a8" stroke="#484242" stroke-width="1.0"/>
<path d="M142.79 280.49V281.73M141.29 280.49h3M141.29 281.73h3" stroke="#111" stroke-width="0.8" fill="none"/>
<text transform="translate(142.79 278.29) scale(1 1.10)" class="lt">c</text>
<rect x="146.49" y="276.06" width="7.40" height="28.14" fill="#aa9ea0" stroke="#484242" stroke-width="1.0"/>
<path d="M150.19 275.65V276.47M148.69 275.65h3M148.69 276.47h3" stroke="#111" stroke-width="0.8" fill="none"/>
<text transform="translate(150.19 273.45) scale(1 1.10)" class="lt">a</text>
<rect x="153.89" y="276.06" width="7.40" height="28.14" fill="#eeaaa8" stroke="#484242" stroke-width="1.0"/>
<path d="M157.59 275.23V276.88M156.09 275.23h3M156.09 276.88h3" stroke="#111" stroke-width="0.8" fill="none"/>
<text transform="translate(157.59 273.03) scale(1 1.10)" class="lt">a</text>
<rect x="161.29" y="276.37" width="7.40" height="27.83" fill="#7cc4ec" stroke="#484242" stroke-width="1.0"/>
<path d="M164.99 275.75V276.99M163.49 275.75h3M163.49 276.99h3" stroke="#111" stroke-width="0.8" fill="none"/>
<text transform="translate(164.99 273.55) scale(1 1.10)" class="lt">a</text>
<rect x="168.69" y="278.43" width="7.40" height="25.77" fill="#d9d7e3" stroke="#484242" stroke-width="1.0"/>
<path d="M172.39 277.81V279.05M170.89 277.81h3M170.89 279.05h3" stroke="#111" stroke-width="0.8" fill="none"/>
<text transform="translate(172.39 275.61) scale(1 1.10)" class="lt">b</text>
<rect x="185.43" y="266.27" width="7.40" height="37.93" fill="#1c63a8" stroke="#484242" stroke-width="1.0"/>
<path d="M189.13 264.20V268.33M187.63 264.20h3M187.63 268.33h3" stroke="#111" stroke-width="0.8" fill="none"/>
<text transform="translate(189.13 262.00) scale(1 1.10)" class="lt">d</text>
<rect x="192.83" y="256.37" width="7.40" height="47.83" fill="#aa9ea0" stroke="#484242" stroke-width="1.0"/>
<path d="M196.53 253.79V258.95M195.03 253.79h3M195.03 258.95h3" stroke="#111" stroke-width="0.8" fill="none"/>
<text transform="translate(196.53 251.59) scale(1 1.10)" class="lt">b</text>
<rect x="200.23" y="248.12" width="7.40" height="56.08" fill="#eeaaa8" stroke="#484242" stroke-width="1.0"/>
<path d="M203.93 246.58V249.67M202.43 246.58h3M202.43 249.67h3" stroke="#111" stroke-width="0.8" fill="none"/>
<text transform="translate(203.93 244.38) scale(1 1.10)" class="lt">a</text>
<rect x="207.63" y="255.03" width="7.40" height="49.17" fill="#7cc4ec" stroke="#484242" stroke-width="1.0"/>
<path d="M211.33 254.51V255.54M209.83 254.51h3M209.83 255.54h3" stroke="#111" stroke-width="0.8" fill="none"/>
<text transform="translate(211.33 252.31) scale(1 1.10)" class="lt">b</text>
<rect x="215.03" y="260.29" width="7.40" height="43.91" fill="#d9d7e3" stroke="#484242" stroke-width="1.0"/>
<path d="M218.73 259.67V260.90M217.23 259.67h3M217.23 260.90h3" stroke="#111" stroke-width="0.8" fill="none"/>
<text transform="translate(218.73 257.47) scale(1 1.10)" class="lt">c</text>
<rect x="42.00" y="180.50" width="185.35" height="123.70" fill="none" stroke="#8c8a8a" stroke-width="1.2"/>
<text x="39.00" y="307.40" class="tk" style="font-size:10.5px">0.0</text>
<path d="M42.00 293.89h2.0" stroke="#666" stroke-width="0.9"/>
<path d="M42.00 283.58h3.0" stroke="#555" stroke-width="1.0"/>
<text x="39.00" y="286.78" class="tk" style="font-size:10.5px">0.2</text>
<path d="M42.00 273.27h2.0" stroke="#666" stroke-width="0.9"/>
<path d="M42.00 262.97h3.0" stroke="#555" stroke-width="1.0"/>
<text x="39.00" y="266.17" class="tk" style="font-size:10.5px">0.4</text>
<path d="M42.00 252.66h2.0" stroke="#666" stroke-width="0.9"/>
<path d="M42.00 242.35h3.0" stroke="#555" stroke-width="1.0"/>
<text x="39.00" y="245.55" class="tk" style="font-size:10.5px">0.6</text>
<path d="M42.00 232.04h2.0" stroke="#666" stroke-width="0.9"/>
<path d="M42.00 221.73h3.0" stroke="#555" stroke-width="1.0"/>
<text x="39.00" y="224.93" class="tk" style="font-size:10.5px">0.8</text>
<path d="M42.00 211.43h2.0" stroke="#666" stroke-width="0.9"/>
<path d="M42.00 201.12h3.0" stroke="#555" stroke-width="1.0"/>
<text x="39.00" y="204.32" class="tk" style="font-size:10.5px">1.0</text>
<path d="M42.00 190.81h2.0" stroke="#666" stroke-width="0.9"/>
<path d="M42.00 180.50h3.0" stroke="#555" stroke-width="1.0"/>
<text x="39.00" y="183.70" class="tk" style="font-size:10.5px">1.2</text>
<text transform="translate(65.17 316.90) scale(1 1.10)" class="xl">30d</text>
<text transform="translate(111.51 316.90) scale(1 1.10)" class="xl">60d</text>
<text transform="translate(157.84 316.90) scale(1 1.10)" class="xl">90d</text>
<text transform="translate(204.18 316.90) scale(1 1.10)" class="xl">120d</text>
<text transform="translate(22.00 242.15) rotate(-90)" class="yl" textLength="89.0" lengthAdjust="spacingAndGlyphs">Root TP content (%)</text>
<rect x="190.50" y="183.40" width="17.2" height="8.0" fill="#1c63a8" stroke="#555" stroke-width="0.9"/>
<text transform="translate(210.15 190.35) scale(1 1.15)" class="lg">TT</text>
<rect x="190.50" y="193.02" width="17.2" height="8.0" fill="#aa9ea0" stroke="#555" stroke-width="0.9"/>
<text transform="translate(210.15 199.97) scale(1 1.15)" class="lg">TS</text>
<rect x="190.50" y="202.64" width="17.2" height="8.0" fill="#eeaaa8" stroke="#555" stroke-width="0.9"/>
<text transform="translate(210.15 209.59) scale(1 1.15)" class="lg">TM</text>
<rect x="190.50" y="212.26" width="17.2" height="8.0" fill="#7cc4ec" stroke="#555" stroke-width="0.9"/>
<text transform="translate(210.15 219.21) scale(1 1.15)" class="lg">TP</text>
<rect x="190.50" y="221.88" width="17.2" height="8.0" fill="#d9d7e3" stroke="#555" stroke-width="0.9"/>
<text transform="translate(210.15 228.83) scale(1 1.15)" class="lg">TH</text>
<rect x="274.46" y="279.99" width="7.40" height="24.21" fill="#1c63a8" stroke="#484242" stroke-width="1.0"/>
<path d="M278.16 279.55V280.43M276.66 279.55h3M276.66 280.43h3" stroke="#111" stroke-width="0.8" fill="none"/>
<text transform="translate(278.16 277.35) scale(1 1.10)" class="lt">c</text>
<rect x="281.86" y="277.43" width="7.40" height="26.77" fill="#aa9ea0" stroke="#484242" stroke-width="1.0"/>
<path d="M285.56 277.07V277.78M284.06 277.07h3M284.06 277.78h3" stroke="#111" stroke-width="0.8" fill="none"/>
<text transform="translate(285.56 274.87) scale(1 1.10)" class="lt">b</text>
<rect x="289.26" y="275.31" width="7.40" height="28.89" fill="#eeaaa8" stroke="#484242" stroke-width="1.0"/>
<path d="M292.96 274.78V275.84M291.46 274.78h3M291.46 275.84h3" stroke="#111" stroke-width="0.8" fill="none"/>
<text transform="translate(292.96 272.58) scale(1 1.10)" class="lt">a</text>
<rect x="296.66" y="276.10" width="7.40" height="28.10" fill="#7cc4ec" stroke="#484242" stroke-width="1.0"/>
<path d="M300.36 275.66V276.54M298.86 275.66h3M298.86 276.54h3" stroke="#111" stroke-width="0.8" fill="none"/>
<text transform="translate(300.36 273.46) scale(1 1.10)" class="lt">a</text>
<rect x="304.06" y="279.37" width="7.40" height="24.83" fill="#d9d7e3" stroke="#484242" stroke-width="1.0"/>
<path d="M307.76 278.66V280.08M306.26 278.66h3M306.26 280.08h3" stroke="#111" stroke-width="0.8" fill="none"/>
<text transform="translate(307.76 276.46) scale(1 1.10)" class="lt">c</text>
<rect x="320.77" y="287.59" width="7.40" height="16.61" fill="#1c63a8" stroke="#484242" stroke-width="1.0"/>
<path d="M324.47 287.24V287.94M322.97 287.24h3M322.97 287.94h3" stroke="#111" stroke-width="0.8" fill="none"/>
<text transform="translate(324.47 285.04) scale(1 1.10)" class="lt">d</text>
<rect x="328.17" y="275.93" width="7.40" height="28.27" fill="#aa9ea0" stroke="#484242" stroke-width="1.0"/>
<path d="M331.87 275.48V276.37M330.37 275.48h3M330.37 276.37h3" stroke="#111" stroke-width="0.8" fill="none"/>
<text transform="translate(331.87 273.28) scale(1 1.10)" class="lt">a</text>
<rect x="335.57" y="281.49" width="7.40" height="22.71" fill="#eeaaa8" stroke="#484242" stroke-width="1.0"/>
<path d="M339.27 279.73V283.26M337.77 279.73h3M337.77 283.26h3" stroke="#111" stroke-width="0.8" fill="none"/>
<text transform="translate(339.27 277.53) scale(1 1.10)" class="lt">b</text>
<rect x="342.97" y="281.40" width="7.40" height="22.80" fill="#7cc4ec" stroke="#484242" stroke-width="1.0"/>
<path d="M346.67 280.96V281.85M345.17 280.96h3M345.17 281.85h3" stroke="#111" stroke-width="0.8" fill="none"/>
<text transform="translate(346.67 278.76) scale(1 1.10)" class="lt">b</text>
<rect x="350.37" y="286.09" width="7.40" height="18.11" fill="#d9d7e3" stroke="#484242" stroke-width="1.0"/>
<path d="M354.07 285.38V286.79M352.57 285.38h3M352.57 286.79h3" stroke="#111" stroke-width="0.8" fill="none"/>
<text transform="translate(354.07 283.18) scale(1 1.10)" class="lt">c</text>
<rect x="367.08" y="278.40" width="7.40" height="25.80" fill="#1c63a8" stroke="#484242" stroke-width="1.0"/>
<path d="M370.78 277.52V279.28M369.28 277.52h3M369.28 279.28h3" stroke="#111" stroke-width="0.8" fill="none"/>
<text transform="translate(370.78 275.32) scale(1 1.10)" class="lt">b</text>
<rect x="374.48" y="280.17" width="7.40" height="24.03" fill="#aa9ea0" stroke="#484242" stroke-width="1.0"/>
<path d="M378.18 279.81V280.52M376.68 279.81h3M376.68 280.52h3" stroke="#111" stroke-width="0.8" fill="none"/>
<text transform="translate(378.18 277.61) scale(1 1.10)" class="lt">b</text>
<rect x="381.88" y="275.40" width="7.40" height="28.80" fill="#eeaaa8" stroke="#484242" stroke-width="1.0"/>
<path d="M385.58 274.69V276.10M384.08 274.69h3M384.08 276.10h3" stroke="#111" stroke-width="0.8" fill="none"/>
<text transform="translate(385.58 272.49) scale(1 1.10)" class="lt">a</text>
<rect x="389.28" y="275.31" width="7.40" height="28.89" fill="#7cc4ec" stroke="#484242" stroke-width="1.0"/>
<path d="M392.98 274.87V275.75M391.48 274.87h3M391.48 275.75h3" stroke="#111" stroke-width="0.8" fill="none"/>
<text transform="translate(392.98 272.67) scale(1 1.10)" class="lt">a</text>
<rect x="396.68" y="279.37" width="7.40" height="24.83" fill="#d9d7e3" stroke="#484242" stroke-width="1.0"/>
<path d="M400.38 278.05V280.70M398.88 278.05h3M398.88 280.70h3" stroke="#111" stroke-width="0.8" fill="none"/>
<text transform="translate(400.38 275.85) scale(1 1.10)" class="lt">b</text>
<rect x="413.39" y="253.22" width="7.40" height="50.98" fill="#1c63a8" stroke="#484242" stroke-width="1.0"/>
<path d="M417.09 252.33V254.10M415.59 252.33h3M415.59 254.10h3" stroke="#111" stroke-width="0.8" fill="none"/>
<text transform="translate(417.09 250.13) scale(1 1.10)" class="lt">b</text>
<rect x="420.79" y="245.53" width="7.40" height="58.67" fill="#aa9ea0" stroke="#484242" stroke-width="1.0"/>
<path d="M424.49 243.76V247.30M422.99 243.76h3M422.99 247.30h3" stroke="#111" stroke-width="0.8" fill="none"/>
<text transform="translate(424.49 241.56) scale(1 1.10)" class="lt">a</text>
<rect x="428.19" y="248.27" width="7.40" height="55.93" fill="#eeaaa8" stroke="#484242" stroke-width="1.0"/>
<path d="M431.89 247.74V248.80M430.39 247.74h3M430.39 248.80h3" stroke="#111" stroke-width="0.8" fill="none"/>
<text transform="translate(431.89 245.54) scale(1 1.10)" class="lt">a</text>
<rect x="435.59" y="246.06" width="7.40" height="58.14" fill="#7cc4ec" stroke="#484242" stroke-width="1.0"/>
<path d="M439.29 244.74V247.39M437.79 244.74h3M437.79 247.39h3" stroke="#111" stroke-width="0.8" fill="none"/>
<text transform="translate(439.29 242.54) scale(1 1.10)" class="lt">a</text>
<rect x="442.99" y="261.79" width="7.40" height="42.41" fill="#d9d7e3" stroke="#484242" stroke-width="1.0"/>
<path d="M446.69 261.35V262.23M445.19 261.35h3M445.19 262.23h3" stroke="#111" stroke-width="0.8" fill="none"/>
<text transform="translate(446.69 259.15) scale(1 1.10)" class="lt">c</text>
<rect x="270.05" y="180.50" width="185.25" height="123.70" fill="none" stroke="#8c8a8a" stroke-width="1.2"/>
<text x="267.05" y="306.86" class="tk" style="font-size:8.9px">0.0</text>
<path d="M270.05 295.36h2.0" stroke="#666" stroke-width="0.9"/>
<path d="M270.05 286.53h3.0" stroke="#555" stroke-width="1.0"/>
<text x="267.05" y="289.19" class="tk" style="font-size:8.9px">0.2</text>
<path d="M270.05 277.69h2.0" stroke="#666" stroke-width="0.9"/>
<path d="M270.05 268.86h3.0" stroke="#555" stroke-width="1.0"/>
<text x="267.05" y="271.52" class="tk" style="font-size:8.9px">0.4</text>
<path d="M270.05 260.02h2.0" stroke="#666" stroke-width="0.9"/>
<path d="M270.05 251.19h3.0" stroke="#555" stroke-width="1.0"/>
<text x="267.05" y="253.84" class="tk" style="font-size:8.9px">0.6</text>
<path d="M270.05 242.35h2.0" stroke="#666" stroke-width="0.9"/>
<path d="M270.05 233.51h3.0" stroke="#555" stroke-width="1.0"/>
<text x="267.05" y="236.17" class="tk" style="font-size:8.9px">0.8</text>
<path d="M270.05 224.68h2.0" stroke="#666" stroke-width="0.9"/>
<path d="M270.05 215.84h3.0" stroke="#555" stroke-width="1.0"/>
<text x="267.05" y="218.50" class="tk" style="font-size:8.9px">1.0</text>
<path d="M270.05 207.01h2.0" stroke="#666" stroke-width="0.9"/>
<path d="M270.05 198.17h3.0" stroke="#555" stroke-width="1.0"/>
<text x="267.05" y="200.83" class="tk" style="font-size:8.9px">1.2</text>
<path d="M270.05 189.34h2.0" stroke="#666" stroke-width="0.9"/>
<path d="M270.05 180.50h3.0" stroke="#555" stroke-width="1.0"/>
<text x="267.05" y="183.16" class="tk" style="font-size:8.9px">1.4</text>
<text transform="translate(293.21 316.90) scale(1 1.10)" class="xl">30d</text>
<text transform="translate(339.52 316.90) scale(1 1.10)" class="xl">60d</text>
<text transform="translate(385.83 316.90) scale(1 1.10)" class="xl">90d</text>
<text transform="translate(432.14 316.90) scale(1 1.10)" class="xl">120d</text>
<text transform="translate(251.65 242.15) rotate(-90)" class="yl" textLength="90.8" lengthAdjust="spacingAndGlyphs">Stem TP content (%)</text>
<rect x="418.45" y="183.40" width="17.2" height="8.0" fill="#1c63a8" stroke="#555" stroke-width="0.9"/>
<text transform="translate(438.10 190.35) scale(1 1.15)" class="lg">TT</text>
<rect x="418.45" y="193.02" width="17.2" height="8.0" fill="#aa9ea0" stroke="#555" stroke-width="0.9"/>
<text transform="translate(438.10 199.97) scale(1 1.15)" class="lg">TS</text>
<rect x="418.45" y="202.64" width="17.2" height="8.0" fill="#eeaaa8" stroke="#555" stroke-width="0.9"/>
<text transform="translate(438.10 209.59) scale(1 1.15)" class="lg">TM</text>
<rect x="418.45" y="212.26" width="17.2" height="8.0" fill="#7cc4ec" stroke="#555" stroke-width="0.9"/>
<text transform="translate(438.10 219.21) scale(1 1.15)" class="lg">TP</text>
<rect x="418.45" y="221.88" width="17.2" height="8.0" fill="#d9d7e3" stroke="#555" stroke-width="0.9"/>
<text transform="translate(438.10 228.83) scale(1 1.15)" class="lg">TH</text>
<rect x="499.61" y="280.39" width="7.40" height="23.81" fill="#1c63a8" stroke="#484242" stroke-width="1.0"/>
<path d="M503.31 279.77V281.01M501.81 279.77h3M501.81 281.01h3" stroke="#111" stroke-width="0.8" fill="none"/>
<text transform="translate(503.31 277.57) scale(1 1.10)" class="lt">d</text>
<rect x="507.01" y="275.44" width="7.40" height="28.76" fill="#aa9ea0" stroke="#484242" stroke-width="1.0"/>
<path d="M510.71 274.82V276.06M509.21 274.82h3M509.21 276.06h3" stroke="#111" stroke-width="0.8" fill="none"/>
<text transform="translate(510.71 272.62) scale(1 1.10)" class="lt">c</text>
<rect x="514.41" y="266.47" width="7.40" height="37.73" fill="#eeaaa8" stroke="#484242" stroke-width="1.0"/>
<path d="M518.11 265.96V266.99M516.61 265.96h3M516.61 266.99h3" stroke="#111" stroke-width="0.8" fill="none"/>
<text transform="translate(518.11 263.76) scale(1 1.10)" class="lt">a</text>
<rect x="521.81" y="270.39" width="7.40" height="33.81" fill="#7cc4ec" stroke="#484242" stroke-width="1.0"/>
<path d="M525.51 269.87V270.90M524.01 269.87h3M524.01 270.90h3" stroke="#111" stroke-width="0.8" fill="none"/>
<text transform="translate(525.51 267.67) scale(1 1.10)" class="lt">b</text>
<rect x="529.21" y="278.43" width="7.40" height="25.77" fill="#d9d7e3" stroke="#484242" stroke-width="1.0"/>
<path d="M532.91 277.81V279.05M531.41 277.81h3M531.41 279.05h3" stroke="#111" stroke-width="0.8" fill="none"/>
<text transform="translate(532.91 275.61) scale(1 1.10)" class="lt">d</text>
<rect x="545.94" y="275.44" width="7.40" height="28.76" fill="#1c63a8" stroke="#484242" stroke-width="1.0"/>
<path d="M549.64 274.62V276.26M548.14 274.62h3M548.14 276.26h3" stroke="#111" stroke-width="0.8" fill="none"/>
<text transform="translate(549.64 272.42) scale(1 1.10)" class="lt">c</text>
<rect x="553.34" y="271.01" width="7.40" height="33.19" fill="#aa9ea0" stroke="#484242" stroke-width="1.0"/>
<path d="M557.04 270.49V271.52M555.54 270.49h3M555.54 271.52h3" stroke="#111" stroke-width="0.8" fill="none"/>
<text transform="translate(557.04 268.29) scale(1 1.10)" class="lt">b</text>
<rect x="560.74" y="260.49" width="7.40" height="43.71" fill="#eeaaa8" stroke="#484242" stroke-width="1.0"/>
<path d="M564.44 260.08V260.90M562.94 260.08h3M562.94 260.90h3" stroke="#111" stroke-width="0.8" fill="none"/>
<text transform="translate(564.44 257.88) scale(1 1.10)" class="lt">a</text>
<rect x="568.14" y="271.21" width="7.40" height="32.99" fill="#7cc4ec" stroke="#484242" stroke-width="1.0"/>
<path d="M571.84 270.70V271.73M570.34 270.70h3M570.34 271.73h3" stroke="#111" stroke-width="0.8" fill="none"/>
<text transform="translate(571.84 268.50) scale(1 1.10)" class="lt">b</text>
<rect x="575.54" y="271.32" width="7.40" height="32.88" fill="#d9d7e3" stroke="#484242" stroke-width="1.0"/>
<path d="M579.24 270.80V271.83M577.74 270.80h3M577.74 271.83h3" stroke="#111" stroke-width="0.8" fill="none"/>
<text transform="translate(579.24 268.60) scale(1 1.10)" class="lt">b</text>
<rect x="592.26" y="281.83" width="7.40" height="22.37" fill="#1c63a8" stroke="#484242" stroke-width="1.0"/>
<path d="M595.96 281.32V282.35M594.46 281.32h3M594.46 282.35h3" stroke="#111" stroke-width="0.8" fill="none"/>
<text transform="translate(595.96 279.12) scale(1 1.10)" class="lt">c</text>
<rect x="599.66" y="279.36" width="7.40" height="24.84" fill="#aa9ea0" stroke="#484242" stroke-width="1.0"/>
<path d="M603.36 278.53V280.18M601.86 278.53h3M601.86 280.18h3" stroke="#111" stroke-width="0.8" fill="none"/>
<text transform="translate(603.36 276.33) scale(1 1.10)" class="lt">b</text>
<rect x="607.06" y="278.74" width="7.40" height="25.46" fill="#eeaaa8" stroke="#484242" stroke-width="1.0"/>
<path d="M610.76 278.12V279.36M609.26 278.12h3M609.26 279.36h3" stroke="#111" stroke-width="0.8" fill="none"/>
<text transform="translate(610.76 275.92) scale(1 1.10)" class="lt">ab</text>
<rect x="614.46" y="278.12" width="7.40" height="26.08" fill="#7cc4ec" stroke="#484242" stroke-width="1.0"/>
<path d="M618.16 277.30V278.94M616.66 277.30h3M616.66 278.94h3" stroke="#111" stroke-width="0.8" fill="none"/>
<text transform="translate(618.16 275.10) scale(1 1.10)" class="lt">a</text>
<rect x="621.86" y="282.45" width="7.40" height="21.75" fill="#d9d7e3" stroke="#484242" stroke-width="1.0"/>
<path d="M625.56 281.62V283.27M624.06 281.62h3M624.06 283.27h3" stroke="#111" stroke-width="0.8" fill="none"/>
<text transform="translate(625.56 279.42) scale(1 1.10)" class="lt">c</text>
<rect x="638.59" y="266.16" width="7.40" height="38.04" fill="#1c63a8" stroke="#484242" stroke-width="1.0"/>
<path d="M642.29 265.54V266.78M640.79 265.54h3M640.79 266.78h3" stroke="#111" stroke-width="0.8" fill="none"/>
<text transform="translate(642.29 263.34) scale(1 1.10)" class="lt">c</text>
<rect x="645.99" y="255.65" width="7.40" height="48.55" fill="#aa9ea0" stroke="#484242" stroke-width="1.0"/>
<path d="M649.69 255.13V256.16M648.19 255.13h3M648.19 256.16h3" stroke="#111" stroke-width="0.8" fill="none"/>
<text transform="translate(649.69 252.93) scale(1 1.10)" class="lt">a</text>
<rect x="653.39" y="258.02" width="7.40" height="46.18" fill="#eeaaa8" stroke="#484242" stroke-width="1.0"/>
<path d="M657.09 257.50V258.53M655.59 257.50h3M655.59 258.53h3" stroke="#111" stroke-width="0.8" fill="none"/>
<text transform="translate(657.09 255.30) scale(1 1.10)" class="lt">ab</text>
<rect x="660.79" y="256.27" width="7.40" height="47.93" fill="#7cc4ec" stroke="#484242" stroke-width="1.0"/>
<path d="M664.49 255.44V257.09M662.99 255.44h3M662.99 257.09h3" stroke="#111" stroke-width="0.8" fill="none"/>
<text transform="translate(664.49 253.24) scale(1 1.10)" class="lt">a</text>
<rect x="668.19" y="260.29" width="7.40" height="43.91" fill="#d9d7e3" stroke="#484242" stroke-width="1.0"/>
<path d="M671.89 259.67V260.90M670.39 259.67h3M670.39 260.90h3" stroke="#111" stroke-width="0.8" fill="none"/>
<text transform="translate(671.89 257.47) scale(1 1.10)" class="lt">b</text>
<rect x="495.20" y="180.50" width="185.30" height="123.70" fill="none" stroke="#8c8a8a" stroke-width="1.2"/>
<text x="492.20" y="307.40" class="tk" style="font-size:10.5px">0.0</text>
<path d="M495.20 293.89h2.0" stroke="#666" stroke-width="0.9"/>
<path d="M495.20 283.58h3.0" stroke="#555" stroke-width="1.0"/>
<text x="492.20" y="286.78" class="tk" style="font-size:10.5px">0.2</text>
<path d="M495.20 273.27h2.0" stroke="#666" stroke-width="0.9"/>
<path d="M495.20 262.97h3.0" stroke="#555" stroke-width="1.0"/>
<text x="492.20" y="266.17" class="tk" style="font-size:10.5px">0.4</text>
<path d="M495.20 252.66h2.0" stroke="#666" stroke-width="0.9"/>
<path d="M495.20 242.35h3.0" stroke="#555" stroke-width="1.0"/>
<text x="492.20" y="245.55" class="tk" style="font-size:10.5px">0.6</text>
<path d="M495.20 232.04h2.0" stroke="#666" stroke-width="0.9"/>
<path d="M495.20 221.73h3.0" stroke="#555" stroke-width="1.0"/>
<text x="492.20" y="224.93" class="tk" style="font-size:10.5px">0.8</text>
<path d="M495.20 211.43h2.0" stroke="#666" stroke-width="0.9"/>
<path d="M495.20 201.12h3.0" stroke="#555" stroke-width="1.0"/>
<text x="492.20" y="204.32" class="tk" style="font-size:10.5px">1.0</text>
<path d="M495.20 190.81h2.0" stroke="#666" stroke-width="0.9"/>
<path d="M495.20 180.50h3.0" stroke="#555" stroke-width="1.0"/>
<text x="492.20" y="183.70" class="tk" style="font-size:10.5px">1.2</text>
<text transform="translate(518.36 316.90) scale(1 1.10)" class="xl">30d</text>
<text transform="translate(564.69 316.90) scale(1 1.10)" class="xl">60d</text>
<text transform="translate(611.01 316.90) scale(1 1.10)" class="xl">90d</text>
<text transform="translate(657.34 316.90) scale(1 1.10)" class="xl">120d</text>
<text transform="translate(474.00 242.15) rotate(-90)" class="yl" textLength="89.0" lengthAdjust="spacingAndGlyphs">Leaf TP content (%)</text>
<rect x="643.65" y="183.40" width="17.2" height="8.0" fill="#1c63a8" stroke="#555" stroke-width="0.9"/>
<text transform="translate(663.30 190.35) scale(1 1.15)" class="lg">TT</text>
<rect x="643.65" y="193.02" width="17.2" height="8.0" fill="#aa9ea0" stroke="#555" stroke-width="0.9"/>
<text transform="translate(663.30 199.97) scale(1 1.15)" class="lg">TS</text>
<rect x="643.65" y="202.64" width="17.2" height="8.0" fill="#eeaaa8" stroke="#555" stroke-width="0.9"/>
<text transform="translate(663.30 209.59) scale(1 1.15)" class="lg">TM</text>
<rect x="643.65" y="212.26" width="17.2" height="8.0" fill="#7cc4ec" stroke="#555" stroke-width="0.9"/>
<text transform="translate(663.30 219.21) scale(1 1.15)" class="lg">TP</text>
<rect x="643.65" y="221.88" width="17.2" height="8.0" fill="#d9d7e3" stroke="#555" stroke-width="0.9"/>
<text transform="translate(663.30 228.83) scale(1 1.15)" class="lg">TH</text>
<text transform="translate(6.00 184.60) scale(1 1.02)" class="pl">b</text>
<rect x="46.14" y="440.69" width="7.55" height="22.01" fill="#1c63a8" stroke="#484242" stroke-width="1.0"/>
<path d="M49.91 440.38V441.00M48.41 440.38h3M48.41 441.00h3" stroke="#111" stroke-width="0.8" fill="none"/>
<text transform="translate(49.91 438.18) scale(1 1.10)" class="lt">c</text>
<rect x="53.69" y="436.31" width="7.55" height="26.39" fill="#aa9ea0" stroke="#484242" stroke-width="1.0"/>
<path d="M57.46 435.90V436.72M55.96 435.90h3M55.96 436.72h3" stroke="#111" stroke-width="0.8" fill="none"/>
<text transform="translate(57.46 433.70) scale(1 1.10)" class="lt">a</text>
<rect x="61.24" y="436.31" width="7.55" height="26.39" fill="#eeaaa8" stroke="#484242" stroke-width="1.0"/>
<path d="M65.01 435.90V436.72M63.51 435.90h3M63.51 436.72h3" stroke="#111" stroke-width="0.8" fill="none"/>
<text transform="translate(65.01 433.70) scale(1 1.10)" class="lt">a</text>
<rect x="68.79" y="439.09" width="7.55" height="23.61" fill="#7cc4ec" stroke="#484242" stroke-width="1.0"/>
<path d="M72.56 438.68V439.51M71.06 438.68h3M71.06 439.51h3" stroke="#111" stroke-width="0.8" fill="none"/>
<text transform="translate(72.56 436.48) scale(1 1.10)" class="lt">b</text>
<rect x="76.34" y="441.36" width="7.55" height="21.34" fill="#d9d7e3" stroke="#484242" stroke-width="1.0"/>
<path d="M80.11 439.82V442.91M78.61 439.82h3M78.61 442.91h3" stroke="#111" stroke-width="0.8" fill="none"/>
<text transform="translate(80.11 437.62) scale(1 1.10)" class="lt">c</text>
<rect x="92.46" y="437.70" width="7.55" height="25.00" fill="#1c63a8" stroke="#484242" stroke-width="1.0"/>
<path d="M96.24 437.29V438.11M94.74 437.29h3M94.74 438.11h3" stroke="#111" stroke-width="0.8" fill="none"/>
<text transform="translate(96.24 435.09) scale(1 1.10)" class="lt">b</text>
<rect x="100.01" y="437.03" width="7.55" height="25.67" fill="#aa9ea0" stroke="#484242" stroke-width="1.0"/>
<path d="M103.79 436.41V437.65M102.29 436.41h3M102.29 437.65h3" stroke="#111" stroke-width="0.8" fill="none"/>
<text transform="translate(103.79 434.21) scale(1 1.10)" class="lt">b</text>
<rect x="107.56" y="433.63" width="7.55" height="29.07" fill="#eeaaa8" stroke="#484242" stroke-width="1.0"/>
<path d="M111.34 431.05V436.21M109.84 431.05h3M109.84 436.21h3" stroke="#111" stroke-width="0.8" fill="none"/>
<text transform="translate(111.34 428.85) scale(1 1.10)" class="lt">a</text>
<rect x="115.11" y="436.93" width="7.55" height="25.77" fill="#7cc4ec" stroke="#484242" stroke-width="1.0"/>
<path d="M118.89 434.87V438.99M117.39 434.87h3M117.39 438.99h3" stroke="#111" stroke-width="0.8" fill="none"/>
<text transform="translate(118.89 432.67) scale(1 1.10)" class="lt">b</text>
<rect x="122.66" y="437.03" width="7.55" height="25.67" fill="#d9d7e3" stroke="#484242" stroke-width="1.0"/>
<path d="M126.44 436.00V438.06M124.94 436.00h3M124.94 438.06h3" stroke="#111" stroke-width="0.8" fill="none"/>
<text transform="translate(126.44 433.80) scale(1 1.10)" class="lt">b</text>
<rect x="138.79" y="445.49" width="7.55" height="17.21" fill="#1c63a8" stroke="#484242" stroke-width="1.0"/>
<path d="M142.56 445.18V445.79M141.06 445.18h3M141.06 445.79h3" stroke="#111" stroke-width="0.8" fill="none"/>
<text transform="translate(142.56 442.98) scale(1 1.10)" class="lt">c</text>
<rect x="146.34" y="444.04" width="7.55" height="18.66" fill="#aa9ea0" stroke="#484242" stroke-width="1.0"/>
<path d="M150.11 443.73V444.35M148.61 443.73h3M148.61 444.35h3" stroke="#111" stroke-width="0.8" fill="none"/>
<text transform="translate(150.11 441.53) scale(1 1.10)" class="lt">b</text>
<rect x="153.89" y="438.89" width="7.55" height="23.81" fill="#eeaaa8" stroke="#484242" stroke-width="1.0"/>
<path d="M157.66 438.48V439.30M156.16 438.48h3M156.16 439.30h3" stroke="#111" stroke-width="0.8" fill="none"/>
<text transform="translate(157.66 436.28) scale(1 1.10)" class="lt">a</text>
<rect x="161.44" y="445.49" width="7.55" height="17.21" fill="#7cc4ec" stroke="#484242" stroke-width="1.0"/>
<path d="M165.21 445.18V445.79M163.71 445.18h3M163.71 445.79h3" stroke="#111" stroke-width="0.8" fill="none"/>
<text transform="translate(165.21 442.98) scale(1 1.10)" class="lt">bc</text>
<rect x="168.99" y="445.49" width="7.55" height="17.21" fill="#d9d7e3" stroke="#484242" stroke-width="1.0"/>
<path d="M172.76 445.18V445.79M171.26 445.18h3M171.26 445.79h3" stroke="#111" stroke-width="0.8" fill="none"/>
<text transform="translate(172.76 442.98) scale(1 1.10)" class="lt">bc</text>
<rect x="185.11" y="446.83" width="7.55" height="15.87" fill="#1c63a8" stroke="#484242" stroke-width="1.0"/>
<path d="M188.89 446.52V447.13M187.39 446.52h3M187.39 447.13h3" stroke="#111" stroke-width="0.8" fill="none"/>
<text transform="translate(188.89 444.32) scale(1 1.10)" class="lt">c</text>
<rect x="192.66" y="441.09" width="7.55" height="21.61" fill="#aa9ea0" stroke="#484242" stroke-width="1.0"/>
<path d="M196.44 440.78V441.40M194.94 440.78h3M194.94 441.40h3" stroke="#111" stroke-width="0.8" fill="none"/>
<text transform="translate(196.44 438.58) scale(1 1.10)" class="lt">b</text>
<rect x="200.21" y="442.08" width="7.55" height="20.62" fill="#eeaaa8" stroke="#484242" stroke-width="1.0"/>
<path d="M203.99 441.67V442.50M202.49 441.67h3M202.49 442.50h3" stroke="#111" stroke-width="0.8" fill="none"/>
<text transform="translate(203.99 439.47) scale(1 1.10)" class="lt">b</text>
<rect x="207.76" y="435.53" width="7.55" height="27.17" fill="#7cc4ec" stroke="#484242" stroke-width="1.0"/>
<path d="M211.54 435.11V435.94M210.04 435.11h3M210.04 435.94h3" stroke="#111" stroke-width="0.8" fill="none"/>
<text transform="translate(211.54 432.91) scale(1 1.10)" class="lt">a</text>
<rect x="215.31" y="441.36" width="7.55" height="21.34" fill="#d9d7e3" stroke="#484242" stroke-width="1.0"/>
<path d="M219.09 441.05V441.67M217.59 441.05h3M217.59 441.67h3" stroke="#111" stroke-width="0.8" fill="none"/>
<text transform="translate(219.09 438.85) scale(1 1.10)" class="lt">b</text>
<rect x="41.60" y="339.00" width="185.30" height="123.70" fill="none" stroke="#8c8a8a" stroke-width="1.2"/>
<text x="38.60" y="465.90" class="tk" style="font-size:10.5px">0.0</text>
<path d="M41.60 452.39h2.0" stroke="#666" stroke-width="0.9"/>
<path d="M41.60 442.08h3.0" stroke="#555" stroke-width="1.0"/>
<text x="38.60" y="445.28" class="tk" style="font-size:10.5px">0.2</text>
<path d="M41.60 431.77h2.0" stroke="#666" stroke-width="0.9"/>
<path d="M41.60 421.47h3.0" stroke="#555" stroke-width="1.0"/>
<text x="38.60" y="424.67" class="tk" style="font-size:10.5px">0.4</text>
<path d="M41.60 411.16h2.0" stroke="#666" stroke-width="0.9"/>
<path d="M41.60 400.85h3.0" stroke="#555" stroke-width="1.0"/>
<text x="38.60" y="404.05" class="tk" style="font-size:10.5px">0.6</text>
<path d="M41.60 390.54h2.0" stroke="#666" stroke-width="0.9"/>
<path d="M41.60 380.23h3.0" stroke="#555" stroke-width="1.0"/>
<text x="38.60" y="383.43" class="tk" style="font-size:10.5px">0.8</text>
<path d="M41.60 369.93h2.0" stroke="#666" stroke-width="0.9"/>
<path d="M41.60 359.62h3.0" stroke="#555" stroke-width="1.0"/>
<text x="38.60" y="362.82" class="tk" style="font-size:10.5px">1.0</text>
<path d="M41.60 349.31h2.0" stroke="#666" stroke-width="0.9"/>
<path d="M41.60 339.00h3.0" stroke="#555" stroke-width="1.0"/>
<text x="38.60" y="342.20" class="tk" style="font-size:10.5px">1.2</text>
<text transform="translate(64.76 475.40) scale(1 1.10)" class="xl">30d</text>
<text transform="translate(111.09 475.40) scale(1 1.10)" class="xl">60d</text>
<text transform="translate(157.41 475.40) scale(1 1.10)" class="xl">90d</text>
<text transform="translate(203.74 475.40) scale(1 1.10)" class="xl">120d</text>
<text transform="translate(21.60 400.65) rotate(-90)" class="yl" textLength="89.0" lengthAdjust="spacingAndGlyphs">Root TP content (%)</text>
<rect x="190.05" y="341.90" width="17.2" height="8.0" fill="#1c63a8" stroke="#555" stroke-width="0.9"/>
<text transform="translate(209.70 348.85) scale(1 1.15)" class="lg">TT</text>
<rect x="190.05" y="351.52" width="17.2" height="8.0" fill="#aa9ea0" stroke="#555" stroke-width="0.9"/>
<text transform="translate(209.70 358.47) scale(1 1.15)" class="lg">TS</text>
<rect x="190.05" y="361.14" width="17.2" height="8.0" fill="#eeaaa8" stroke="#555" stroke-width="0.9"/>
<text transform="translate(209.70 368.09) scale(1 1.15)" class="lg">TM</text>
<rect x="190.05" y="370.76" width="17.2" height="8.0" fill="#7cc4ec" stroke="#555" stroke-width="0.9"/>
<text transform="translate(209.70 377.71) scale(1 1.15)" class="lg">TP</text>
<rect x="190.05" y="380.38" width="17.2" height="8.0" fill="#d9d7e3" stroke="#555" stroke-width="0.9"/>
<text transform="translate(209.70 387.33) scale(1 1.15)" class="lg">TH</text>
<rect x="274.01" y="437.70" width="7.55" height="25.00" fill="#1c63a8" stroke="#484242" stroke-width="1.0"/>
<path d="M277.78 437.29V438.11M276.28 437.29h3M276.28 438.11h3" stroke="#111" stroke-width="0.8" fill="none"/>
<text transform="translate(277.78 435.09) scale(1 1.10)" class="lt">c</text>
<rect x="281.56" y="433.22" width="7.55" height="29.48" fill="#aa9ea0" stroke="#484242" stroke-width="1.0"/>
<path d="M285.33 432.39V434.04M283.83 432.39h3M283.83 434.04h3" stroke="#111" stroke-width="0.8" fill="none"/>
<text transform="translate(285.33 430.19) scale(1 1.10)" class="lt">a</text>
<rect x="289.11" y="435.53" width="7.55" height="27.17" fill="#eeaaa8" stroke="#484242" stroke-width="1.0"/>
<path d="M292.88 435.11V435.94M291.38 435.11h3M291.38 435.94h3" stroke="#111" stroke-width="0.8" fill="none"/>
<text transform="translate(292.88 432.91) scale(1 1.10)" class="lt">b</text>
<rect x="296.66" y="436.89" width="7.55" height="25.81" fill="#7cc4ec" stroke="#484242" stroke-width="1.0"/>
<path d="M300.43 436.37V437.40M298.93 436.37h3M298.93 437.40h3" stroke="#111" stroke-width="0.8" fill="none"/>
<text transform="translate(300.43 434.17) scale(1 1.10)" class="lt">c</text>
<rect x="304.21" y="437.03" width="7.55" height="25.67" fill="#d9d7e3" stroke="#484242" stroke-width="1.0"/>
<path d="M307.98 436.31V437.75M306.48 436.31h3M306.48 437.75h3" stroke="#111" stroke-width="0.8" fill="none"/>
<text transform="translate(307.98 434.11) scale(1 1.10)" class="lt">c</text>
<rect x="320.27" y="442.50" width="7.55" height="20.20" fill="#1c63a8" stroke="#484242" stroke-width="1.0"/>
<path d="M324.04 442.08V442.91M322.54 442.08h3M322.54 442.91h3" stroke="#111" stroke-width="0.8" fill="none"/>
<text transform="translate(324.04 439.88) scale(1 1.10)" class="lt">d</text>
<rect x="327.82" y="437.29" width="7.55" height="25.41" fill="#aa9ea0" stroke="#484242" stroke-width="1.0"/>
<path d="M331.59 436.88V437.70M330.09 436.88h3M330.09 437.70h3" stroke="#111" stroke-width="0.8" fill="none"/>
<text transform="translate(331.59 434.68) scale(1 1.10)" class="lt">c</text>
<rect x="335.37" y="432.53" width="7.55" height="30.17" fill="#eeaaa8" stroke="#484242" stroke-width="1.0"/>
<path d="M339.14 431.91V433.15M337.64 431.91h3M337.64 433.15h3" stroke="#111" stroke-width="0.8" fill="none"/>
<text transform="translate(339.14 429.71) scale(1 1.10)" class="lt">a</text>
<rect x="342.92" y="435.28" width="7.55" height="27.42" fill="#7cc4ec" stroke="#484242" stroke-width="1.0"/>
<path d="M346.69 434.76V435.80M345.19 434.76h3M345.19 435.80h3" stroke="#111" stroke-width="0.8" fill="none"/>
<text transform="translate(346.69 432.56) scale(1 1.10)" class="lt">b</text>
<rect x="350.47" y="433.89" width="7.55" height="28.81" fill="#d9d7e3" stroke="#484242" stroke-width="1.0"/>
<path d="M354.24 433.27V434.51M352.74 433.27h3M352.74 434.51h3" stroke="#111" stroke-width="0.8" fill="none"/>
<text transform="translate(354.24 431.07) scale(1 1.10)" class="lt">b</text>
<rect x="366.53" y="439.61" width="7.55" height="23.09" fill="#1c63a8" stroke="#484242" stroke-width="1.0"/>
<path d="M370.31 439.30V439.92M368.81 439.30h3M368.81 439.92h3" stroke="#111" stroke-width="0.8" fill="none"/>
<text transform="translate(370.31 437.10) scale(1 1.10)" class="lt">d</text>
<rect x="374.08" y="435.53" width="7.55" height="27.17" fill="#aa9ea0" stroke="#484242" stroke-width="1.0"/>
<path d="M377.86 434.81V436.25M376.36 434.81h3M376.36 436.25h3" stroke="#111" stroke-width="0.8" fill="none"/>
<text transform="translate(377.86 432.61) scale(1 1.10)" class="lt">b</text>
<rect x="381.63" y="433.89" width="7.55" height="28.81" fill="#eeaaa8" stroke="#484242" stroke-width="1.0"/>
<path d="M385.41 433.37V434.40M383.91 433.37h3M383.91 434.40h3" stroke="#111" stroke-width="0.8" fill="none"/>
<text transform="translate(385.41 431.17) scale(1 1.10)" class="lt">a</text>
<rect x="389.18" y="436.31" width="7.55" height="26.39" fill="#7cc4ec" stroke="#484242" stroke-width="1.0"/>
<path d="M392.96 435.69V436.93M391.46 435.69h3M391.46 436.93h3" stroke="#111" stroke-width="0.8" fill="none"/>
<text transform="translate(392.96 433.49) scale(1 1.10)" class="lt">b</text>
<rect x="396.73" y="438.27" width="7.55" height="24.43" fill="#d9d7e3" stroke="#484242" stroke-width="1.0"/>
<path d="M400.51 437.86V438.68M399.01 437.86h3M399.01 438.68h3" stroke="#111" stroke-width="0.8" fill="none"/>
<text transform="translate(400.51 435.66) scale(1 1.10)" class="lt">c</text>
<rect x="412.79" y="426.41" width="7.55" height="36.29" fill="#1c63a8" stroke="#484242" stroke-width="1.0"/>
<path d="M416.57 426.00V426.83M415.07 426.00h3M415.07 426.83h3" stroke="#111" stroke-width="0.8" fill="none"/>
<text transform="translate(416.57 423.80) scale(1 1.10)" class="lt">c</text>
<rect x="420.34" y="427.08" width="7.55" height="35.62" fill="#aa9ea0" stroke="#484242" stroke-width="1.0"/>
<path d="M424.12 426.47V427.70M422.62 426.47h3M422.62 427.70h3" stroke="#111" stroke-width="0.8" fill="none"/>
<text transform="translate(424.12 424.27) scale(1 1.10)" class="lt">c</text>
<rect x="427.89" y="411.47" width="7.55" height="51.23" fill="#eeaaa8" stroke="#484242" stroke-width="1.0"/>
<path d="M431.67 411.06V411.88M430.17 411.06h3M430.17 411.88h3" stroke="#111" stroke-width="0.8" fill="none"/>
<text transform="translate(431.67 408.86) scale(1 1.10)" class="lt">a</text>
<rect x="435.44" y="429.51" width="7.55" height="33.19" fill="#7cc4ec" stroke="#484242" stroke-width="1.0"/>
<path d="M439.22 428.89V430.13M437.72 428.89h3M437.72 430.13h3" stroke="#111" stroke-width="0.8" fill="none"/>
<text transform="translate(439.22 426.69) scale(1 1.10)" class="lt">d</text>
<rect x="442.99" y="422.29" width="7.55" height="40.41" fill="#d9d7e3" stroke="#484242" stroke-width="1.0"/>
<path d="M446.77 421.98V422.60M445.27 421.98h3M445.27 422.60h3" stroke="#111" stroke-width="0.8" fill="none"/>
<text transform="translate(446.77 419.78) scale(1 1.10)" class="lt">b</text>
<rect x="269.50" y="339.00" width="185.05" height="123.70" fill="none" stroke="#8c8a8a" stroke-width="1.2"/>
<text x="266.50" y="465.36" class="tk" style="font-size:8.9px">0.0</text>
<path d="M269.50 452.39h2.0" stroke="#666" stroke-width="0.9"/>
<path d="M269.50 442.08h3.0" stroke="#555" stroke-width="1.0"/>
<text x="266.50" y="444.74" class="tk" style="font-size:8.9px">0.2</text>
<path d="M269.50 431.77h2.0" stroke="#666" stroke-width="0.9"/>
<path d="M269.50 421.47h3.0" stroke="#555" stroke-width="1.0"/>
<text x="266.50" y="424.12" class="tk" style="font-size:8.9px">0.4</text>
<path d="M269.50 411.16h2.0" stroke="#666" stroke-width="0.9"/>
<path d="M269.50 400.85h3.0" stroke="#555" stroke-width="1.0"/>
<text x="266.50" y="403.51" class="tk" style="font-size:8.9px">0.6</text>
<path d="M269.50 390.54h2.0" stroke="#666" stroke-width="0.9"/>
<path d="M269.50 380.23h3.0" stroke="#555" stroke-width="1.0"/>
<text x="266.50" y="382.89" class="tk" style="font-size:8.9px">0.8</text>
<path d="M269.50 369.93h2.0" stroke="#666" stroke-width="0.9"/>
<path d="M269.50 359.62h3.0" stroke="#555" stroke-width="1.0"/>
<text x="266.50" y="362.27" class="tk" style="font-size:8.9px">1.0</text>
<path d="M269.50 349.31h2.0" stroke="#666" stroke-width="0.9"/>
<path d="M269.50 339.00h3.0" stroke="#555" stroke-width="1.0"/>
<text x="266.50" y="341.66" class="tk" style="font-size:8.9px">1.2</text>
<text transform="translate(292.63 475.40) scale(1 1.10)" class="xl">30d</text>
<text transform="translate(338.89 475.40) scale(1 1.10)" class="xl">60d</text>
<text transform="translate(385.16 475.40) scale(1 1.10)" class="xl">90d</text>
<text transform="translate(431.42 475.40) scale(1 1.10)" class="xl">120d</text>
<text transform="translate(251.80 400.65) rotate(-90)" class="yl" textLength="90.8" lengthAdjust="spacingAndGlyphs">Stem TP content (%)</text>
<rect x="417.70" y="341.90" width="17.2" height="8.0" fill="#1c63a8" stroke="#555" stroke-width="0.9"/>
<text transform="translate(437.35 348.85) scale(1 1.15)" class="lg">TT</text>
<rect x="417.70" y="351.52" width="17.2" height="8.0" fill="#aa9ea0" stroke="#555" stroke-width="0.9"/>
<text transform="translate(437.35 358.47) scale(1 1.15)" class="lg">TS</text>
<rect x="417.70" y="361.14" width="17.2" height="8.0" fill="#eeaaa8" stroke="#555" stroke-width="0.9"/>
<text transform="translate(437.35 368.09) scale(1 1.15)" class="lg">TM</text>
<rect x="417.70" y="370.76" width="17.2" height="8.0" fill="#7cc4ec" stroke="#555" stroke-width="0.9"/>
<text transform="translate(437.35 377.71) scale(1 1.15)" class="lg">TP</text>
<rect x="417.70" y="380.38" width="17.2" height="8.0" fill="#d9d7e3" stroke="#555" stroke-width="0.9"/>
<text transform="translate(437.35 387.33) scale(1 1.15)" class="lg">TH</text>
<rect x="498.89" y="428.19" width="7.55" height="34.51" fill="#1c63a8" stroke="#484242" stroke-width="1.0"/>
<path d="M502.66 426.70V429.67M501.16 426.70h3M501.16 429.67h3" stroke="#111" stroke-width="0.8" fill="none"/>
<text transform="translate(502.66 424.50) scale(1 1.10)" class="lt" style="font-size:9.4px">c</text>
<rect x="506.44" y="410.37" width="7.55" height="52.33" fill="#aa9ea0" stroke="#484242" stroke-width="1.0"/>
<path d="M510.21 409.63V411.12M508.71 409.63h3M508.71 411.12h3" stroke="#111" stroke-width="0.8" fill="none"/>
<text transform="translate(510.21 407.43) scale(1 1.10)" class="lt" style="font-size:9.4px">a</text>
<rect x="513.99" y="418.04" width="7.55" height="44.66" fill="#eeaaa8" stroke="#484242" stroke-width="1.0"/>
<path d="M517.76 416.81V419.28M516.26 416.81h3M516.26 419.28h3" stroke="#111" stroke-width="0.8" fill="none"/>
<text transform="translate(517.76 414.61) scale(1 1.10)" class="lt" style="font-size:9.4px">b</text>
<rect x="521.54" y="428.06" width="7.55" height="34.64" fill="#7cc4ec" stroke="#484242" stroke-width="1.0"/>
<path d="M525.31 427.32V428.81M523.81 427.32h3M523.81 428.81h3" stroke="#111" stroke-width="0.8" fill="none"/>
<text transform="translate(525.31 425.12) scale(1 1.10)" class="lt" style="font-size:9.4px">c</text>
<rect x="529.09" y="427.51" width="7.55" height="35.19" fill="#d9d7e3" stroke="#484242" stroke-width="1.0"/>
<path d="M532.86 426.52V428.50M531.36 426.52h3M531.36 428.50h3" stroke="#111" stroke-width="0.8" fill="none"/>
<text transform="translate(532.86 424.32) scale(1 1.10)" class="lt" style="font-size:9.4px">c</text>
<rect x="545.31" y="423.43" width="7.55" height="39.27" fill="#1c63a8" stroke="#484242" stroke-width="1.0"/>
<path d="M549.09 422.81V424.04M547.59 422.81h3M547.59 424.04h3" stroke="#111" stroke-width="0.8" fill="none"/>
<text transform="translate(549.09 420.61) scale(1 1.10)" class="lt" style="font-size:9.4px">d</text>
<rect x="552.86" y="415.26" width="7.55" height="47.44" fill="#aa9ea0" stroke="#484242" stroke-width="1.0"/>
<path d="M556.64 414.77V415.76M555.14 414.77h3M555.14 415.76h3" stroke="#111" stroke-width="0.8" fill="none"/>
<text transform="translate(556.64 412.57) scale(1 1.10)" class="lt" style="font-size:9.4px">a</text>
<rect x="560.41" y="418.54" width="7.55" height="44.16" fill="#eeaaa8" stroke="#484242" stroke-width="1.0"/>
<path d="M564.19 418.04V419.03M562.69 418.04h3M562.69 419.03h3" stroke="#111" stroke-width="0.8" fill="none"/>
<text transform="translate(564.19 415.84) scale(1 1.10)" class="lt" style="font-size:9.4px">b</text>
<rect x="567.96" y="423.29" width="7.55" height="39.41" fill="#7cc4ec" stroke="#484242" stroke-width="1.0"/>
<path d="M571.74 420.82V425.76M570.24 420.82h3M570.24 425.76h3" stroke="#111" stroke-width="0.8" fill="none"/>
<text transform="translate(571.74 418.62) scale(1 1.10)" class="lt" style="font-size:9.4px">cd</text>
<rect x="575.51" y="421.38" width="7.55" height="41.32" fill="#d9d7e3" stroke="#484242" stroke-width="1.0"/>
<path d="M579.29 420.77V422.00M577.79 420.77h3M577.79 422.00h3" stroke="#111" stroke-width="0.8" fill="none"/>
<text transform="translate(579.29 418.57) scale(1 1.10)" class="lt" style="font-size:9.4px">c</text>
<rect x="591.74" y="435.24" width="7.55" height="27.46" fill="#1c63a8" stroke="#484242" stroke-width="1.0"/>
<path d="M595.51 434.87V435.61M594.01 434.87h3M594.01 435.61h3" stroke="#111" stroke-width="0.8" fill="none"/>
<text transform="translate(595.51 432.67) scale(1 1.10)" class="lt" style="font-size:9.4px">d</text>
<rect x="599.29" y="432.27" width="7.55" height="30.43" fill="#aa9ea0" stroke="#484242" stroke-width="1.0"/>
<path d="M603.06 431.77V432.76M601.56 431.77h3M601.56 432.76h3" stroke="#111" stroke-width="0.8" fill="none"/>
<text transform="translate(603.06 429.57) scale(1 1.10)" class="lt" style="font-size:9.4px">b</text>
<rect x="606.84" y="427.51" width="7.55" height="35.19" fill="#eeaaa8" stroke="#484242" stroke-width="1.0"/>
<path d="M610.61 427.14V427.88M609.11 427.14h3M609.11 427.88h3" stroke="#111" stroke-width="0.8" fill="none"/>
<text transform="translate(610.61 424.94) scale(1 1.10)" class="lt" style="font-size:9.4px">a</text>
<rect x="614.39" y="434.30" width="7.55" height="28.40" fill="#7cc4ec" stroke="#484242" stroke-width="1.0"/>
<path d="M618.16 433.80V434.79M616.66 433.80h3M616.66 434.79h3" stroke="#111" stroke-width="0.8" fill="none"/>
<text transform="translate(618.16 431.60) scale(1 1.10)" class="lt" style="font-size:9.4px">c</text>
<rect x="621.94" y="434.99" width="7.55" height="27.71" fill="#d9d7e3" stroke="#484242" stroke-width="1.0"/>
<path d="M625.71 434.50V435.49M624.21 434.50h3M624.21 435.49h3" stroke="#111" stroke-width="0.8" fill="none"/>
<text transform="translate(625.71 432.30) scale(1 1.10)" class="lt" style="font-size:9.4px">d</text>
<rect x="638.16" y="437.47" width="7.55" height="25.23" fill="#1c63a8" stroke="#484242" stroke-width="1.0"/>
<path d="M641.94 436.97V437.96M640.44 436.97h3M640.44 437.96h3" stroke="#111" stroke-width="0.8" fill="none"/>
<text transform="translate(641.94 434.77) scale(1 1.10)" class="lt" style="font-size:9.4px">c</text>
<rect x="645.71" y="428.19" width="7.55" height="34.51" fill="#aa9ea0" stroke="#484242" stroke-width="1.0"/>
<path d="M649.49 426.33V430.04M647.99 426.33h3M647.99 430.04h3" stroke="#111" stroke-width="0.8" fill="none"/>
<text transform="translate(649.49 424.13) scale(1 1.10)" class="lt" style="font-size:9.4px">a</text>
<rect x="653.26" y="437.29" width="7.55" height="25.41" fill="#eeaaa8" stroke="#484242" stroke-width="1.0"/>
<path d="M657.04 436.67V437.91M655.54 436.67h3M655.54 437.91h3" stroke="#111" stroke-width="0.8" fill="none"/>
<text transform="translate(657.04 434.47) scale(1 1.10)" class="lt" style="font-size:9.4px">c</text>
<rect x="660.81" y="434.30" width="7.55" height="28.40" fill="#7cc4ec" stroke="#484242" stroke-width="1.0"/>
<path d="M664.59 433.68V434.92M663.09 433.68h3M663.09 434.92h3" stroke="#111" stroke-width="0.8" fill="none"/>
<text transform="translate(664.59 431.48) scale(1 1.10)" class="lt" style="font-size:9.4px">b</text>
<rect x="668.36" y="437.29" width="7.55" height="25.41" fill="#d9d7e3" stroke="#484242" stroke-width="1.0"/>
<path d="M672.14 436.80V437.79M670.64 436.80h3M670.64 437.79h3" stroke="#111" stroke-width="0.8" fill="none"/>
<text transform="translate(672.14 434.60) scale(1 1.10)" class="lt" style="font-size:9.4px">c</text>
<rect x="494.30" y="339.00" width="185.70" height="123.70" fill="none" stroke="#8c8a8a" stroke-width="1.2"/>
<text x="491.30" y="465.90" class="tk" style="font-size:10.5px">0.0</text>
<path d="M494.30 450.33h2.0" stroke="#666" stroke-width="0.9"/>
<path d="M494.30 437.96h3.0" stroke="#555" stroke-width="1.0"/>
<text x="491.30" y="441.16" class="tk" style="font-size:10.5px">0.2</text>
<path d="M494.30 425.59h2.0" stroke="#666" stroke-width="0.9"/>
<path d="M494.30 413.22h3.0" stroke="#555" stroke-width="1.0"/>
<text x="491.30" y="416.42" class="tk" style="font-size:10.5px">0.4</text>
<path d="M494.30 400.85h2.0" stroke="#666" stroke-width="0.9"/>
<path d="M494.30 388.48h3.0" stroke="#555" stroke-width="1.0"/>
<text x="491.30" y="391.68" class="tk" style="font-size:10.5px">0.6</text>
<path d="M494.30 376.11h2.0" stroke="#666" stroke-width="0.9"/>
<path d="M494.30 363.74h3.0" stroke="#555" stroke-width="1.0"/>
<text x="491.30" y="366.94" class="tk" style="font-size:10.5px">0.8</text>
<path d="M494.30 351.37h2.0" stroke="#666" stroke-width="0.9"/>
<path d="M494.30 339.00h3.0" stroke="#555" stroke-width="1.0"/>
<text x="491.30" y="342.20" class="tk" style="font-size:10.5px">1.0</text>
<text transform="translate(517.51 475.40) scale(1 1.10)" class="xl">30d</text>
<text transform="translate(563.94 475.40) scale(1 1.10)" class="xl">60d</text>
<text transform="translate(610.36 475.40) scale(1 1.10)" class="xl">90d</text>
<text transform="translate(656.79 475.40) scale(1 1.10)" class="xl">120d</text>
<text transform="translate(474.30 400.65) rotate(-90)" class="yl" textLength="89.0" lengthAdjust="spacingAndGlyphs">Leaf TP content (%)</text>
<rect x="643.15" y="341.90" width="17.2" height="8.0" fill="#1c63a8" stroke="#555" stroke-width="0.9"/>
<text transform="translate(662.80 348.85) scale(1 1.15)" class="lg">TT</text>
<rect x="643.15" y="351.52" width="17.2" height="8.0" fill="#aa9ea0" stroke="#555" stroke-width="0.9"/>
<text transform="translate(662.80 358.47) scale(1 1.15)" class="lg">TS</text>
<rect x="643.15" y="361.14" width="17.2" height="8.0" fill="#eeaaa8" stroke="#555" stroke-width="0.9"/>
<text transform="translate(662.80 368.09) scale(1 1.15)" class="lg">TM</text>
<rect x="643.15" y="370.76" width="17.2" height="8.0" fill="#7cc4ec" stroke="#555" stroke-width="0.9"/>
<text transform="translate(662.80 377.71) scale(1 1.15)" class="lg">TP</text>
<rect x="643.15" y="380.38" width="17.2" height="8.0" fill="#d9d7e3" stroke="#555" stroke-width="0.9"/>
<text transform="translate(662.80 387.33) scale(1 1.15)" class="lg">TH</text>
<text transform="translate(6.00 342.70) scale(1 1.02)" class="pl">c</text>
<rect x="46.14" y="599.73" width="7.55" height="22.27" fill="#1c63a8" stroke="#484242" stroke-width="1.0"/>
<path d="M49.91 599.32V600.15M48.41 599.32h3M48.41 600.15h3" stroke="#111" stroke-width="0.8" fill="none"/>
<text transform="translate(49.91 597.12) scale(1 1.10)" class="lt">c</text>
<rect x="53.69" y="595.26" width="7.55" height="26.74" fill="#aa9ea0" stroke="#484242" stroke-width="1.0"/>
<path d="M57.46 594.85V595.67M55.96 594.85h3M55.96 595.67h3" stroke="#111" stroke-width="0.8" fill="none"/>
<text transform="translate(57.46 592.65) scale(1 1.10)" class="lt">a</text>
<rect x="61.24" y="594.99" width="7.55" height="27.01" fill="#eeaaa8" stroke="#484242" stroke-width="1.0"/>
<path d="M65.01 594.48V595.51M63.51 594.48h3M63.51 595.51h3" stroke="#111" stroke-width="0.8" fill="none"/>
<text transform="translate(65.01 592.28) scale(1 1.10)" class="lt">a</text>
<rect x="68.79" y="597.47" width="7.55" height="24.53" fill="#7cc4ec" stroke="#484242" stroke-width="1.0"/>
<path d="M72.56 596.85V598.08M71.06 596.85h3M71.06 598.08h3" stroke="#111" stroke-width="0.8" fill="none"/>
<text transform="translate(72.56 594.65) scale(1 1.10)" class="lt">b</text>
<rect x="76.34" y="600.46" width="7.55" height="21.54" fill="#d9d7e3" stroke="#484242" stroke-width="1.0"/>
<path d="M80.11 599.84V601.07M78.61 599.84h3M78.61 601.07h3" stroke="#111" stroke-width="0.8" fill="none"/>
<text transform="translate(80.11 597.64) scale(1 1.10)" class="lt">c</text>
<rect x="92.46" y="596.33" width="7.55" height="25.67" fill="#1c63a8" stroke="#484242" stroke-width="1.0"/>
<path d="M96.24 595.92V596.74M94.74 595.92h3M94.74 596.74h3" stroke="#111" stroke-width="0.8" fill="none"/>
<text transform="translate(96.24 593.72) scale(1 1.10)" class="lt">b</text>
<rect x="100.01" y="594.31" width="7.55" height="27.69" fill="#aa9ea0" stroke="#484242" stroke-width="1.0"/>
<path d="M103.79 593.69V594.93M102.29 593.69h3M102.29 594.93h3" stroke="#111" stroke-width="0.8" fill="none"/>
<text transform="translate(103.79 591.49) scale(1 1.10)" class="lt">a</text>
<rect x="107.56" y="594.58" width="7.55" height="27.42" fill="#eeaaa8" stroke="#484242" stroke-width="1.0"/>
<path d="M111.34 594.06V595.10M109.84 594.06h3M109.84 595.10h3" stroke="#111" stroke-width="0.8" fill="none"/>
<text transform="translate(111.34 591.86) scale(1 1.10)" class="lt">a</text>
<rect x="115.11" y="593.91" width="7.55" height="28.09" fill="#7cc4ec" stroke="#484242" stroke-width="1.0"/>
<path d="M118.89 593.09V594.73M117.39 593.09h3M117.39 594.73h3" stroke="#111" stroke-width="0.8" fill="none"/>
<text transform="translate(118.89 590.89) scale(1 1.10)" class="lt">a</text>
<rect x="122.66" y="595.94" width="7.55" height="26.06" fill="#d9d7e3" stroke="#484242" stroke-width="1.0"/>
<path d="M126.44 595.32V596.56M124.94 595.32h3M124.94 596.56h3" stroke="#111" stroke-width="0.8" fill="none"/>
<text transform="translate(126.44 593.12) scale(1 1.10)" class="lt">b</text>
<rect x="138.79" y="602.46" width="7.55" height="19.54" fill="#1c63a8" stroke="#484242" stroke-width="1.0"/>
<path d="M142.56 602.15V602.76M141.06 602.15h3M141.06 602.76h3" stroke="#111" stroke-width="0.8" fill="none"/>
<text transform="translate(142.56 599.95) scale(1 1.10)" class="lt">d</text>
<rect x="146.34" y="594.31" width="7.55" height="27.69" fill="#aa9ea0" stroke="#484242" stroke-width="1.0"/>
<path d="M150.11 593.80V594.83M148.61 593.80h3M148.61 594.83h3" stroke="#111" stroke-width="0.8" fill="none"/>
<text transform="translate(150.11 591.60) scale(1 1.10)" class="lt">a</text>
<rect x="153.89" y="597.57" width="7.55" height="24.43" fill="#eeaaa8" stroke="#484242" stroke-width="1.0"/>
<path d="M157.66 596.95V598.19M156.16 596.95h3M156.16 598.19h3" stroke="#111" stroke-width="0.8" fill="none"/>
<text transform="translate(157.66 594.75) scale(1 1.10)" class="lt">b</text>
<rect x="161.44" y="596.33" width="7.55" height="25.67" fill="#7cc4ec" stroke="#484242" stroke-width="1.0"/>
<path d="M165.21 595.92V596.74M163.71 595.92h3M163.71 596.74h3" stroke="#111" stroke-width="0.8" fill="none"/>
<text transform="translate(165.21 593.72) scale(1 1.10)" class="lt">b</text>
<rect x="168.99" y="600.28" width="7.55" height="21.72" fill="#d9d7e3" stroke="#484242" stroke-width="1.0"/>
<path d="M172.76 599.87V600.69M171.26 599.87h3M171.26 600.69h3" stroke="#111" stroke-width="0.8" fill="none"/>
<text transform="translate(172.76 597.67) scale(1 1.10)" class="lt">c</text>
<rect x="185.11" y="600.28" width="7.55" height="21.72" fill="#1c63a8" stroke="#484242" stroke-width="1.0"/>
<path d="M188.89 599.97V600.59M187.39 599.97h3M187.39 600.59h3" stroke="#111" stroke-width="0.8" fill="none"/>
<text transform="translate(188.89 597.77) scale(1 1.10)" class="lt">b</text>
<rect x="192.66" y="600.46" width="7.55" height="21.54" fill="#aa9ea0" stroke="#484242" stroke-width="1.0"/>
<path d="M196.44 599.94V600.97M194.94 599.94h3M194.94 600.97h3" stroke="#111" stroke-width="0.8" fill="none"/>
<text transform="translate(196.44 597.74) scale(1 1.10)" class="lt">b</text>
<rect x="200.21" y="598.24" width="7.55" height="23.76" fill="#eeaaa8" stroke="#484242" stroke-width="1.0"/>
<path d="M203.99 597.83V598.65M202.49 597.83h3M202.49 598.65h3" stroke="#111" stroke-width="0.8" fill="none"/>
<text transform="translate(203.99 595.63) scale(1 1.10)" class="lt">a</text>
<rect x="207.76" y="600.28" width="7.55" height="21.72" fill="#7cc4ec" stroke="#484242" stroke-width="1.0"/>
<path d="M211.54 599.97V600.59M210.04 599.97h3M210.04 600.59h3" stroke="#111" stroke-width="0.8" fill="none"/>
<text transform="translate(211.54 597.77) scale(1 1.10)" class="lt">b</text>
<rect x="215.31" y="600.46" width="7.55" height="21.54" fill="#d9d7e3" stroke="#484242" stroke-width="1.0"/>
<path d="M219.09 600.04V600.87M217.59 600.04h3M217.59 600.87h3" stroke="#111" stroke-width="0.8" fill="none"/>
<text transform="translate(219.09 597.84) scale(1 1.10)" class="lt">b</text>
<rect x="41.60" y="498.30" width="185.30" height="123.70" fill="none" stroke="#8c8a8a" stroke-width="1.2"/>
<text x="38.60" y="625.20" class="tk" style="font-size:10.5px">0.0</text>
<path d="M41.60 611.69h2.0" stroke="#666" stroke-width="0.9"/>
<path d="M41.60 601.38h3.0" stroke="#555" stroke-width="1.0"/>
<text x="38.60" y="604.58" class="tk" style="font-size:10.5px">0.2</text>
<path d="M41.60 591.08h2.0" stroke="#666" stroke-width="0.9"/>
<path d="M41.60 580.77h3.0" stroke="#555" stroke-width="1.0"/>
<text x="38.60" y="583.97" class="tk" style="font-size:10.5px">0.4</text>
<path d="M41.60 570.46h2.0" stroke="#666" stroke-width="0.9"/>
<path d="M41.60 560.15h3.0" stroke="#555" stroke-width="1.0"/>
<text x="38.60" y="563.35" class="tk" style="font-size:10.5px">0.6</text>
<path d="M41.60 549.84h2.0" stroke="#666" stroke-width="0.9"/>
<path d="M41.60 539.53h3.0" stroke="#555" stroke-width="1.0"/>
<text x="38.60" y="542.73" class="tk" style="font-size:10.5px">0.8</text>
<path d="M41.60 529.23h2.0" stroke="#666" stroke-width="0.9"/>
<path d="M41.60 518.92h3.0" stroke="#555" stroke-width="1.0"/>
<text x="38.60" y="522.12" class="tk" style="font-size:10.5px">1.0</text>
<path d="M41.60 508.61h2.0" stroke="#666" stroke-width="0.9"/>
<path d="M41.60 498.30h3.0" stroke="#555" stroke-width="1.0"/>
<text x="38.60" y="501.50" class="tk" style="font-size:10.5px">1.2</text>
<text transform="translate(64.76 634.70) scale(1 1.10)" class="xl">30d</text>
<text transform="translate(111.09 634.70) scale(1 1.10)" class="xl">60d</text>
<text transform="translate(157.41 634.70) scale(1 1.10)" class="xl">90d</text>
<text transform="translate(203.74 634.70) scale(1 1.10)" class="xl">120d</text>
<text transform="translate(21.60 559.95) rotate(-90)" class="yl" textLength="89.0" lengthAdjust="spacingAndGlyphs">Root TP content (%)</text>
<rect x="190.05" y="501.20" width="17.2" height="8.0" fill="#1c63a8" stroke="#555" stroke-width="0.9"/>
<text transform="translate(209.70 508.15) scale(1 1.15)" class="lg">TT</text>
<rect x="190.05" y="510.82" width="17.2" height="8.0" fill="#aa9ea0" stroke="#555" stroke-width="0.9"/>
<text transform="translate(209.70 517.77) scale(1 1.15)" class="lg">TS</text>
<rect x="190.05" y="520.44" width="17.2" height="8.0" fill="#eeaaa8" stroke="#555" stroke-width="0.9"/>
<text transform="translate(209.70 527.39) scale(1 1.15)" class="lg">TM</text>
<rect x="190.05" y="530.06" width="17.2" height="8.0" fill="#7cc4ec" stroke="#555" stroke-width="0.9"/>
<text transform="translate(209.70 537.01) scale(1 1.15)" class="lg">TP</text>
<rect x="190.05" y="539.68" width="17.2" height="8.0" fill="#d9d7e3" stroke="#555" stroke-width="0.9"/>
<text transform="translate(209.70 546.63) scale(1 1.15)" class="lg">TH</text>
<rect x="274.01" y="596.23" width="7.55" height="25.77" fill="#1c63a8" stroke="#484242" stroke-width="1.0"/>
<path d="M277.78 595.82V596.64M276.28 595.82h3M276.28 596.64h3" stroke="#111" stroke-width="0.8" fill="none"/>
<text transform="translate(277.78 593.62) scale(1 1.10)" class="lt">c</text>
<rect x="281.56" y="592.31" width="7.55" height="29.69" fill="#aa9ea0" stroke="#484242" stroke-width="1.0"/>
<path d="M285.33 591.90V592.72M283.83 591.90h3M283.83 592.72h3" stroke="#111" stroke-width="0.8" fill="none"/>
<text transform="translate(285.33 589.70) scale(1 1.10)" class="lt">a</text>
<rect x="289.11" y="595.26" width="7.55" height="26.74" fill="#eeaaa8" stroke="#484242" stroke-width="1.0"/>
<path d="M292.88 594.85V595.67M291.38 594.85h3M291.38 595.67h3" stroke="#111" stroke-width="0.8" fill="none"/>
<text transform="translate(292.88 592.65) scale(1 1.10)" class="lt">bc</text>
<rect x="296.66" y="594.17" width="7.55" height="27.83" fill="#7cc4ec" stroke="#484242" stroke-width="1.0"/>
<path d="M300.43 593.65V594.68M298.93 593.65h3M298.93 594.68h3" stroke="#111" stroke-width="0.8" fill="none"/>
<text transform="translate(300.43 591.45) scale(1 1.10)" class="lt">b</text>
<rect x="304.21" y="597.05" width="7.55" height="24.95" fill="#d9d7e3" stroke="#484242" stroke-width="1.0"/>
<path d="M307.98 595.51V598.60M306.48 595.51h3M306.48 598.60h3" stroke="#111" stroke-width="0.8" fill="none"/>
<text transform="translate(307.98 593.31) scale(1 1.10)" class="lt">c</text>
<rect x="320.27" y="601.07" width="7.55" height="20.93" fill="#1c63a8" stroke="#484242" stroke-width="1.0"/>
<path d="M324.04 600.76V601.38M322.54 600.76h3M322.54 601.38h3" stroke="#111" stroke-width="0.8" fill="none"/>
<text transform="translate(324.04 598.56) scale(1 1.10)" class="lt">d</text>
<rect x="327.82" y="592.55" width="7.55" height="29.45" fill="#aa9ea0" stroke="#484242" stroke-width="1.0"/>
<path d="M331.59 592.03V593.06M330.09 592.03h3M330.09 593.06h3" stroke="#111" stroke-width="0.8" fill="none"/>
<text transform="translate(331.59 589.83) scale(1 1.10)" class="lt">a</text>
<rect x="335.37" y="592.55" width="7.55" height="29.45" fill="#eeaaa8" stroke="#484242" stroke-width="1.0"/>
<path d="M339.14 592.03V593.06M337.64 592.03h3M337.64 593.06h3" stroke="#111" stroke-width="0.8" fill="none"/>
<text transform="translate(339.14 589.83) scale(1 1.10)" class="lt">a</text>
<rect x="342.92" y="594.89" width="7.55" height="27.11" fill="#7cc4ec" stroke="#484242" stroke-width="1.0"/>
<path d="M346.69 594.48V595.30M345.19 594.48h3M345.19 595.30h3" stroke="#111" stroke-width="0.8" fill="none"/>
<text transform="translate(346.69 592.28) scale(1 1.10)" class="lt">b</text>
<rect x="350.47" y="596.23" width="7.55" height="25.77" fill="#d9d7e3" stroke="#484242" stroke-width="1.0"/>
<path d="M354.24 595.61V596.85M352.74 595.61h3M352.74 596.85h3" stroke="#111" stroke-width="0.8" fill="none"/>
<text transform="translate(354.24 593.41) scale(1 1.10)" class="lt">c</text>
<rect x="366.53" y="598.39" width="7.55" height="23.61" fill="#1c63a8" stroke="#484242" stroke-width="1.0"/>
<path d="M370.31 598.08V598.70M368.81 598.08h3M368.81 598.70h3" stroke="#111" stroke-width="0.8" fill="none"/>
<text transform="translate(370.31 595.88) scale(1 1.10)" class="lt">c</text>
<rect x="374.08" y="592.93" width="7.55" height="29.07" fill="#aa9ea0" stroke="#484242" stroke-width="1.0"/>
<path d="M377.86 592.42V593.45M376.36 592.42h3M376.36 593.45h3" stroke="#111" stroke-width="0.8" fill="none"/>
<text transform="translate(377.86 590.22) scale(1 1.10)" class="lt">a</text>
<rect x="381.63" y="594.58" width="7.55" height="27.42" fill="#eeaaa8" stroke="#484242" stroke-width="1.0"/>
<path d="M385.41 594.27V594.89M383.91 594.27h3M383.91 594.89h3" stroke="#111" stroke-width="0.8" fill="none"/>
<text transform="translate(385.41 592.07) scale(1 1.10)" class="lt">b</text>
<rect x="389.18" y="597.29" width="7.55" height="24.71" fill="#7cc4ec" stroke="#484242" stroke-width="1.0"/>
<path d="M392.96 596.78V597.81M391.46 596.78h3M391.46 597.81h3" stroke="#111" stroke-width="0.8" fill="none"/>
<text transform="translate(392.96 594.58) scale(1 1.10)" class="lt">c</text>
<rect x="396.73" y="598.39" width="7.55" height="23.61" fill="#d9d7e3" stroke="#484242" stroke-width="1.0"/>
<path d="M400.51 597.98V598.81M399.01 597.98h3M399.01 598.81h3" stroke="#111" stroke-width="0.8" fill="none"/>
<text transform="translate(400.51 595.78) scale(1 1.10)" class="lt">c</text>
<rect x="412.79" y="580.60" width="7.55" height="41.40" fill="#1c63a8" stroke="#484242" stroke-width="1.0"/>
<path d="M416.57 580.19V581.01M415.07 580.19h3M415.07 581.01h3" stroke="#111" stroke-width="0.8" fill="none"/>
<text transform="translate(416.57 577.99) scale(1 1.10)" class="lt">c</text>
<rect x="420.34" y="575.17" width="7.55" height="46.83" fill="#aa9ea0" stroke="#484242" stroke-width="1.0"/>
<path d="M424.12 574.76V575.58M422.62 574.76h3M422.62 575.58h3" stroke="#111" stroke-width="0.8" fill="none"/>
<text transform="translate(424.12 572.56) scale(1 1.10)" class="lt">a</text>
<rect x="427.89" y="575.30" width="7.55" height="46.70" fill="#eeaaa8" stroke="#484242" stroke-width="1.0"/>
<path d="M431.67 574.89V575.72M430.17 574.89h3M430.17 575.72h3" stroke="#111" stroke-width="0.8" fill="none"/>
<text transform="translate(431.67 572.69) scale(1 1.10)" class="lt">a</text>
<rect x="435.44" y="577.61" width="7.55" height="44.39" fill="#7cc4ec" stroke="#484242" stroke-width="1.0"/>
<path d="M439.22 577.20V578.02M437.72 577.20h3M437.72 578.02h3" stroke="#111" stroke-width="0.8" fill="none"/>
<text transform="translate(439.22 575.00) scale(1 1.10)" class="lt">b</text>
<rect x="442.99" y="577.21" width="7.55" height="44.79" fill="#d9d7e3" stroke="#484242" stroke-width="1.0"/>
<path d="M446.77 576.80V577.62M445.27 576.80h3M445.27 577.62h3" stroke="#111" stroke-width="0.8" fill="none"/>
<text transform="translate(446.77 574.60) scale(1 1.10)" class="lt">b</text>
<rect x="269.50" y="498.30" width="185.05" height="123.70" fill="none" stroke="#8c8a8a" stroke-width="1.2"/>
<text x="266.50" y="624.66" class="tk" style="font-size:8.9px">0.0</text>
<path d="M269.50 611.69h2.0" stroke="#666" stroke-width="0.9"/>
<path d="M269.50 601.38h3.0" stroke="#555" stroke-width="1.0"/>
<text x="266.50" y="604.04" class="tk" style="font-size:8.9px">0.2</text>
<path d="M269.50 591.08h2.0" stroke="#666" stroke-width="0.9"/>
<path d="M269.50 580.77h3.0" stroke="#555" stroke-width="1.0"/>
<text x="266.50" y="583.42" class="tk" style="font-size:8.9px">0.4</text>
<path d="M269.50 570.46h2.0" stroke="#666" stroke-width="0.9"/>
<path d="M269.50 560.15h3.0" stroke="#555" stroke-width="1.0"/>
<text x="266.50" y="562.81" class="tk" style="font-size:8.9px">0.6</text>
<path d="M269.50 549.84h2.0" stroke="#666" stroke-width="0.9"/>
<path d="M269.50 539.53h3.0" stroke="#555" stroke-width="1.0"/>
<text x="266.50" y="542.19" class="tk" style="font-size:8.9px">0.8</text>
<path d="M269.50 529.23h2.0" stroke="#666" stroke-width="0.9"/>
<path d="M269.50 518.92h3.0" stroke="#555" stroke-width="1.0"/>
<text x="266.50" y="521.57" class="tk" style="font-size:8.9px">1.0</text>
<path d="M269.50 508.61h2.0" stroke="#666" stroke-width="0.9"/>
<path d="M269.50 498.30h3.0" stroke="#555" stroke-width="1.0"/>
<text x="266.50" y="500.96" class="tk" style="font-size:8.9px">1.2</text>
<text transform="translate(292.63 634.70) scale(1 1.10)" class="xl">30d</text>
<text transform="translate(338.89 634.70) scale(1 1.10)" class="xl">60d</text>
<text transform="translate(385.16 634.70) scale(1 1.10)" class="xl">90d</text>
<text transform="translate(431.42 634.70) scale(1 1.10)" class="xl">120d</text>
<text transform="translate(251.80 559.95) rotate(-90)" class="yl" textLength="90.8" lengthAdjust="spacingAndGlyphs">Stem TP content (%)</text>
<rect x="417.70" y="501.20" width="17.2" height="8.0" fill="#1c63a8" stroke="#555" stroke-width="0.9"/>
<text transform="translate(437.35 508.15) scale(1 1.15)" class="lg">TT</text>
<rect x="417.70" y="510.82" width="17.2" height="8.0" fill="#aa9ea0" stroke="#555" stroke-width="0.9"/>
<text transform="translate(437.35 517.77) scale(1 1.15)" class="lg">TS</text>
<rect x="417.70" y="520.44" width="17.2" height="8.0" fill="#eeaaa8" stroke="#555" stroke-width="0.9"/>
<text transform="translate(437.35 527.39) scale(1 1.15)" class="lg">TM</text>
<rect x="417.70" y="530.06" width="17.2" height="8.0" fill="#7cc4ec" stroke="#555" stroke-width="0.9"/>
<text transform="translate(437.35 537.01) scale(1 1.15)" class="lg">TP</text>
<rect x="417.70" y="539.68" width="17.2" height="8.0" fill="#d9d7e3" stroke="#555" stroke-width="0.9"/>
<text transform="translate(437.35 546.63) scale(1 1.15)" class="lg">TH</text>
<rect x="498.89" y="588.23" width="7.55" height="33.77" fill="#1c63a8" stroke="#484242" stroke-width="1.0"/>
<path d="M502.66 586.75V589.71M501.16 586.75h3M501.16 589.71h3" stroke="#111" stroke-width="0.8" fill="none"/>
<text transform="translate(502.66 584.55) scale(1 1.10)" class="lt" style="font-size:9.4px">d</text>
<rect x="506.44" y="578.01" width="7.55" height="43.99" fill="#aa9ea0" stroke="#484242" stroke-width="1.0"/>
<path d="M510.21 577.52V578.51M508.71 577.52h3M508.71 578.51h3" stroke="#111" stroke-width="0.8" fill="none"/>
<text transform="translate(510.21 575.32) scale(1 1.10)" class="lt" style="font-size:9.4px">b</text>
<rect x="513.99" y="570.54" width="7.55" height="51.46" fill="#eeaaa8" stroke="#484242" stroke-width="1.0"/>
<path d="M517.76 569.92V571.16M516.26 569.92h3M516.26 571.16h3" stroke="#111" stroke-width="0.8" fill="none"/>
<text transform="translate(517.76 567.72) scale(1 1.10)" class="lt" style="font-size:9.4px">a</text>
<rect x="521.54" y="586.71" width="7.55" height="35.29" fill="#7cc4ec" stroke="#484242" stroke-width="1.0"/>
<path d="M525.31 585.97V587.45M523.81 585.97h3M523.81 587.45h3" stroke="#111" stroke-width="0.8" fill="none"/>
<text transform="translate(525.31 583.77) scale(1 1.10)" class="lt" style="font-size:9.4px">c</text>
<rect x="529.09" y="587.12" width="7.55" height="34.88" fill="#d9d7e3" stroke="#484242" stroke-width="1.0"/>
<path d="M532.86 586.50V587.74M531.36 586.50h3M531.36 587.74h3" stroke="#111" stroke-width="0.8" fill="none"/>
<text transform="translate(532.86 584.30) scale(1 1.10)" class="lt" style="font-size:9.4px">cd</text>
<rect x="545.31" y="581.30" width="7.55" height="40.70" fill="#1c63a8" stroke="#484242" stroke-width="1.0"/>
<path d="M549.09 580.56V582.04M547.59 580.56h3M547.59 582.04h3" stroke="#111" stroke-width="0.8" fill="none"/>
<text transform="translate(549.09 578.36) scale(1 1.10)" class="lt" style="font-size:9.4px">c</text>
<rect x="552.86" y="576.23" width="7.55" height="45.77" fill="#aa9ea0" stroke="#484242" stroke-width="1.0"/>
<path d="M556.64 575.24V577.22M555.14 575.24h3M555.14 577.22h3" stroke="#111" stroke-width="0.8" fill="none"/>
<text transform="translate(556.64 573.04) scale(1 1.10)" class="lt" style="font-size:9.4px">a</text>
<rect x="560.41" y="578.28" width="7.55" height="43.72" fill="#eeaaa8" stroke="#484242" stroke-width="1.0"/>
<path d="M564.19 577.79V578.78M562.69 577.79h3M562.69 578.78h3" stroke="#111" stroke-width="0.8" fill="none"/>
<text transform="translate(564.19 575.59) scale(1 1.10)" class="lt" style="font-size:9.4px">b</text>
<rect x="567.96" y="582.35" width="7.55" height="39.65" fill="#7cc4ec" stroke="#484242" stroke-width="1.0"/>
<path d="M571.74 579.88V584.83M570.24 579.88h3M570.24 584.83h3" stroke="#111" stroke-width="0.8" fill="none"/>
<text transform="translate(571.74 577.68) scale(1 1.10)" class="lt" style="font-size:9.4px">d</text>
<rect x="575.51" y="586.16" width="7.55" height="35.84" fill="#d9d7e3" stroke="#484242" stroke-width="1.0"/>
<path d="M579.29 585.67V586.66M577.79 585.67h3M577.79 586.66h3" stroke="#111" stroke-width="0.8" fill="none"/>
<text transform="translate(579.29 583.47) scale(1 1.10)" class="lt" style="font-size:9.4px">e</text>
<rect x="591.74" y="590.78" width="7.55" height="31.22" fill="#1c63a8" stroke="#484242" stroke-width="1.0"/>
<path d="M595.51 590.28V591.27M594.01 590.28h3M594.01 591.27h3" stroke="#111" stroke-width="0.8" fill="none"/>
<text transform="translate(595.51 588.08) scale(1 1.10)" class="lt" style="font-size:9.4px">b</text>
<rect x="599.29" y="588.48" width="7.55" height="33.52" fill="#aa9ea0" stroke="#484242" stroke-width="1.0"/>
<path d="M603.06 588.11V588.85M601.56 588.11h3M601.56 588.85h3" stroke="#111" stroke-width="0.8" fill="none"/>
<text transform="translate(603.06 585.91) scale(1 1.10)" class="lt" style="font-size:9.4px">a</text>
<rect x="606.84" y="588.60" width="7.55" height="33.40" fill="#eeaaa8" stroke="#484242" stroke-width="1.0"/>
<path d="M610.61 588.23V588.97M609.11 588.23h3M609.11 588.97h3" stroke="#111" stroke-width="0.8" fill="none"/>
<text transform="translate(610.61 586.03) scale(1 1.10)" class="lt" style="font-size:9.4px">a</text>
<rect x="614.39" y="589.01" width="7.55" height="32.99" fill="#7cc4ec" stroke="#484242" stroke-width="1.0"/>
<path d="M618.16 588.51V589.50M616.66 588.51h3M616.66 589.50h3" stroke="#111" stroke-width="0.8" fill="none"/>
<text transform="translate(618.16 586.31) scale(1 1.10)" class="lt" style="font-size:9.4px">a</text>
<rect x="621.94" y="590.51" width="7.55" height="31.49" fill="#d9d7e3" stroke="#484242" stroke-width="1.0"/>
<path d="M625.71 589.89V591.12M624.21 589.89h3M624.21 591.12h3" stroke="#111" stroke-width="0.8" fill="none"/>
<text transform="translate(625.71 587.69) scale(1 1.10)" class="lt" style="font-size:9.4px">b</text>
<rect x="638.16" y="597.28" width="7.55" height="24.72" fill="#1c63a8" stroke="#484242" stroke-width="1.0"/>
<path d="M641.94 596.79V597.78M640.44 596.79h3M640.44 597.78h3" stroke="#111" stroke-width="0.8" fill="none"/>
<text transform="translate(641.94 594.59) scale(1 1.10)" class="lt" style="font-size:9.4px">c</text>
<rect x="645.71" y="593.22" width="7.55" height="28.78" fill="#aa9ea0" stroke="#484242" stroke-width="1.0"/>
<path d="M649.49 592.84V593.59M647.99 592.84h3M647.99 593.59h3" stroke="#111" stroke-width="0.8" fill="none"/>
<text transform="translate(649.49 590.64) scale(1 1.10)" class="lt" style="font-size:9.4px">a</text>
<rect x="653.26" y="594.58" width="7.55" height="27.42" fill="#eeaaa8" stroke="#484242" stroke-width="1.0"/>
<path d="M657.04 594.20V594.95M655.54 594.20h3M655.54 594.95h3" stroke="#111" stroke-width="0.8" fill="none"/>
<text transform="translate(657.04 592.00) scale(1 1.10)" class="lt" style="font-size:9.4px">b</text>
<rect x="660.81" y="594.98" width="7.55" height="27.02" fill="#7cc4ec" stroke="#484242" stroke-width="1.0"/>
<path d="M664.59 594.49V595.48M663.09 594.49h3M663.09 595.48h3" stroke="#111" stroke-width="0.8" fill="none"/>
<text transform="translate(664.59 592.29) scale(1 1.10)" class="lt" style="font-size:9.4px">bc</text>
<rect x="668.36" y="597.01" width="7.55" height="24.99" fill="#d9d7e3" stroke="#484242" stroke-width="1.0"/>
<path d="M672.14 595.16V598.87M670.64 595.16h3M670.64 598.87h3" stroke="#111" stroke-width="0.8" fill="none"/>
<text transform="translate(672.14 592.96) scale(1 1.10)" class="lt" style="font-size:9.4px">c</text>
<rect x="494.30" y="498.30" width="185.70" height="123.70" fill="none" stroke="#8c8a8a" stroke-width="1.2"/>
<text x="491.30" y="625.20" class="tk" style="font-size:10.5px">0.0</text>
<path d="M494.30 609.63h2.0" stroke="#666" stroke-width="0.9"/>
<path d="M494.30 597.26h3.0" stroke="#555" stroke-width="1.0"/>
<text x="491.30" y="600.46" class="tk" style="font-size:10.5px">0.2</text>
<path d="M494.30 584.89h2.0" stroke="#666" stroke-width="0.9"/>
<path d="M494.30 572.52h3.0" stroke="#555" stroke-width="1.0"/>
<text x="491.30" y="575.72" class="tk" style="font-size:10.5px">0.4</text>
<path d="M494.30 560.15h2.0" stroke="#666" stroke-width="0.9"/>
<path d="M494.30 547.78h3.0" stroke="#555" stroke-width="1.0"/>
<text x="491.30" y="550.98" class="tk" style="font-size:10.5px">0.6</text>
<path d="M494.30 535.41h2.0" stroke="#666" stroke-width="0.9"/>
<path d="M494.30 523.04h3.0" stroke="#555" stroke-width="1.0"/>
<text x="491.30" y="526.24" class="tk" style="font-size:10.5px">0.8</text>
<path d="M494.30 510.67h2.0" stroke="#666" stroke-width="0.9"/>
<path d="M494.30 498.30h3.0" stroke="#555" stroke-width="1.0"/>
<text x="491.30" y="501.50" class="tk" style="font-size:10.5px">1.0</text>
<text transform="translate(517.51 634.70) scale(1 1.10)" class="xl">30d</text>
<text transform="translate(563.94 634.70) scale(1 1.10)" class="xl">60d</text>
<text transform="translate(610.36 634.70) scale(1 1.10)" class="xl">90d</text>
<text transform="translate(656.79 634.70) scale(1 1.10)" class="xl">120d</text>
<text transform="translate(474.30 559.95) rotate(-90)" class="yl" textLength="89.0" lengthAdjust="spacingAndGlyphs">Leaf TP content (%)</text>
<rect x="643.15" y="501.20" width="17.2" height="8.0" fill="#1c63a8" stroke="#555" stroke-width="0.9"/>
<text transform="translate(662.80 508.15) scale(1 1.15)" class="lg">TT</text>
<rect x="643.15" y="510.82" width="17.2" height="8.0" fill="#aa9ea0" stroke="#555" stroke-width="0.9"/>
<text transform="translate(662.80 517.77) scale(1 1.15)" class="lg">TS</text>
<rect x="643.15" y="520.44" width="17.2" height="8.0" fill="#eeaaa8" stroke="#555" stroke-width="0.9"/>
<text transform="translate(662.80 527.39) scale(1 1.15)" class="lg">TM</text>
<rect x="643.15" y="530.06" width="17.2" height="8.0" fill="#7cc4ec" stroke="#555" stroke-width="0.9"/>
<text transform="translate(662.80 537.01) scale(1 1.15)" class="lg">TP</text>
<rect x="643.15" y="539.68" width="17.2" height="8.0" fill="#d9d7e3" stroke="#555" stroke-width="0.9"/>
<text transform="translate(662.80 546.63) scale(1 1.15)" class="lg">TH</text>
<text transform="translate(6.00 504.90) scale(1 1.02)" class="pl">d</text>
</svg>
</body></html>
